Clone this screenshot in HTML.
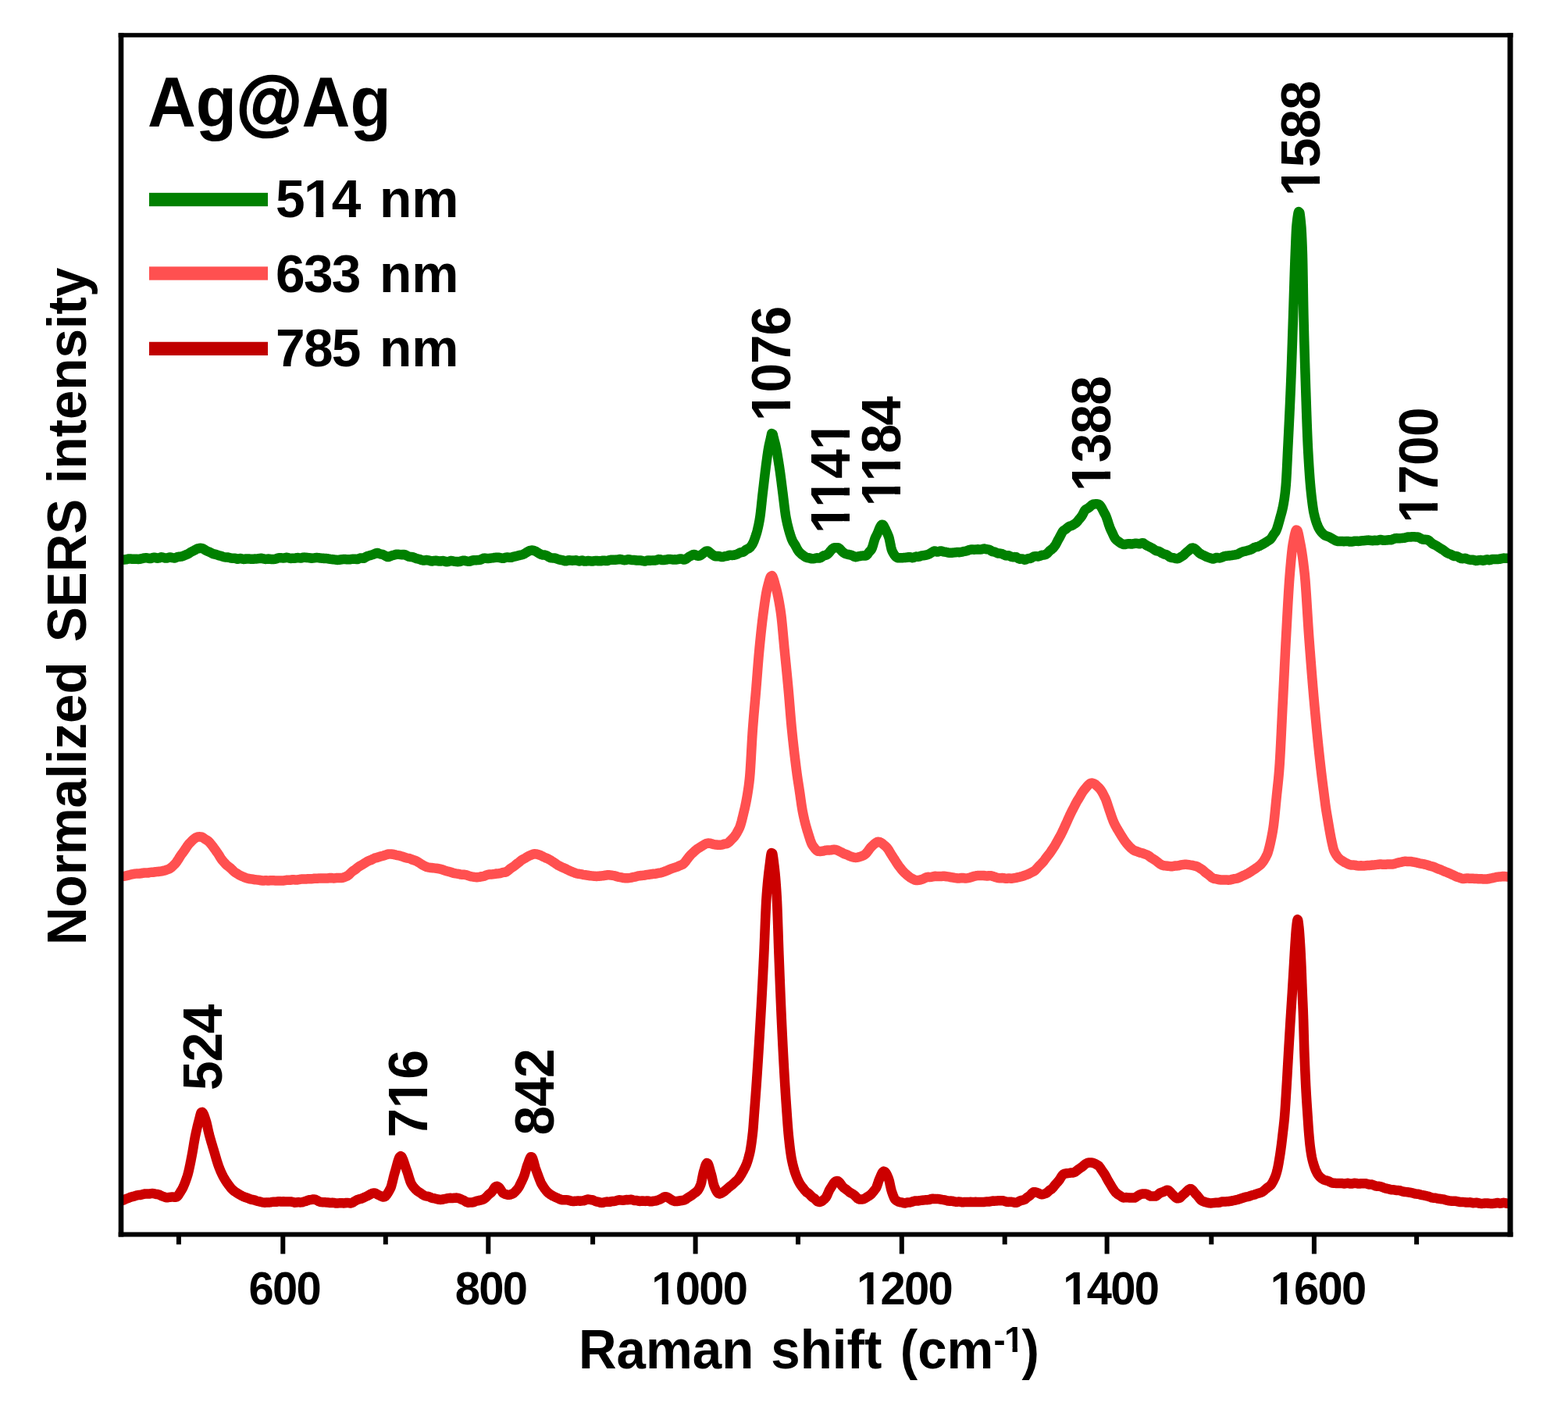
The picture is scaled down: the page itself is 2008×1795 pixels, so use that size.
<!DOCTYPE html>
<html lang="en"><head><meta charset="utf-8"><title>Ag@Ag SERS spectra</title>
<style>html,body{margin:0;padding:0;background:#fff;}body{width:2008px;height:1795px;overflow:hidden;}svg{display:block;}text{font-family:"Liberation Sans",Arial,Helvetica,sans-serif;font-weight:bold;fill:#000;}</style></head><body>
<svg width="2008" height="1795" viewBox="0 0 2008 1795">
<rect x="0" y="0" width="2008" height="1795" fill="#fff"/>
<defs><clipPath id="plot"><rect x="155.0" y="45.0" width="1779.0" height="1535.5"/></clipPath><clipPath id="kt2" clipPathUnits="userSpaceOnUse"><path clip-rule="evenodd" d="M-3000,-3000H3000V3000H-3000ZM-59.32,-7.03H-48.30V1.15H-59.32ZM-40.00,-7.03H-29.75V1.15H-40.00Z"/></clipPath><clipPath id="kt3" clipPathUnits="userSpaceOnUse"><path clip-rule="evenodd" d="M-3000,-3000H3000V3000H-3000ZM-59.32,-7.03H-48.30V1.15H-59.32ZM-40.00,-7.03H-29.75V1.15H-40.00Z"/></clipPath><clipPath id="kt4" clipPathUnits="userSpaceOnUse"><path clip-rule="evenodd" d="M-3000,-3000H3000V3000H-3000ZM-59.32,-7.03H-48.30V1.15H-59.32ZM-40.00,-7.03H-29.75V1.15H-40.00Z"/></clipPath><clipPath id="kt5" clipPathUnits="userSpaceOnUse"><path clip-rule="evenodd" d="M-3000,-3000H3000V3000H-3000ZM-59.32,-7.03H-48.30V1.15H-59.32ZM-40.00,-7.03H-29.75V1.15H-40.00Z"/></clipPath><clipPath id="kt6" clipPathUnits="userSpaceOnUse"><path clip-rule="evenodd" d="M-3000,-3000H3000V3000H-3000ZM566.89,-26.92H575.70V-20.38H566.89ZM582.33,-26.92H590.52V-20.38H582.33Z"/></clipPath><clipPath id="kt9" clipPathUnits="userSpaceOnUse"><path clip-rule="evenodd" d="M-3000,-3000H3000V3000H-3000ZM39.41,-8.21H52.27V1.34H39.41ZM61.95,-8.21H73.91V1.34H61.95Z"/></clipPath><clipPath id="kt12" clipPathUnits="userSpaceOnUse"><path clip-rule="evenodd" d="M-3000,-3000H3000V3000H-3000ZM3.13,-8.52H16.48V1.39H3.13ZM26.53,-8.52H38.94V1.39H26.53Z"/></clipPath><clipPath id="kt13" clipPathUnits="userSpaceOnUse"><path clip-rule="evenodd" d="M-3000,-3000H3000V3000H-3000ZM3.13,-8.52H16.48V1.39H3.13ZM26.53,-8.52H51.48V1.39H26.53ZM61.53,-8.52H73.94V1.39H61.53ZM116.00,-8.52H129.35V1.39H116.00ZM139.40,-8.52H151.81V1.39H139.40Z"/></clipPath><clipPath id="kt14" clipPathUnits="userSpaceOnUse"><path clip-rule="evenodd" d="M-3000,-3000H3000V3000H-3000ZM3.13,-8.52H16.48V1.39H3.13ZM26.53,-8.52H50.23V1.39H26.53ZM60.28,-8.52H72.69V1.39H60.28Z"/></clipPath><clipPath id="kt15" clipPathUnits="userSpaceOnUse"><path clip-rule="evenodd" d="M-3000,-3000H3000V3000H-3000ZM3.13,-8.52H16.48V1.39H3.13ZM26.53,-8.52H38.94V1.39H26.53Z"/></clipPath><clipPath id="kt16" clipPathUnits="userSpaceOnUse"><path clip-rule="evenodd" d="M-3000,-3000H3000V3000H-3000ZM3.13,-8.52H16.48V1.39H3.13ZM26.53,-8.52H38.94V1.39H26.53Z"/></clipPath><clipPath id="kt17" clipPathUnits="userSpaceOnUse"><path clip-rule="evenodd" d="M-3000,-3000H3000V3000H-3000ZM3.13,-8.52H16.48V1.39H3.13ZM26.53,-8.52H38.94V1.39H26.53Z"/></clipPath><clipPath id="kt19" clipPathUnits="userSpaceOnUse"><path clip-rule="evenodd" d="M-3000,-3000H3000V3000H-3000ZM42.51,-8.52H55.86V1.39H42.51ZM65.91,-8.52H78.32V1.39H65.91Z"/></clipPath></defs>
<g clip-path="url(#plot)" fill="none" stroke-linejoin="round" stroke-linecap="round" stroke-width="12.5">
<path d="M150.00,1537.5 L151.60,1537.5 L153.20,1537.4 L154.80,1537.3 L156.40,1537.1 L157.94,1536.6 L159.38,1535.9 L160.82,1535.2 L162.32,1534.6 L163.86,1534.1 L165.36,1533.5 L166.82,1532.9 L168.34,1532.3 L169.92,1532.0 L171.50,1531.7 L173.02,1531.1 L174.52,1530.6 L176.08,1530.2 L177.68,1530.1 L179.28,1530.0 L180.88,1529.7 L182.44,1529.3 L183.98,1528.8 L185.54,1528.5 L187.14,1528.4 L188.74,1528.5 L190.34,1528.5 L191.94,1528.4 L193.52,1528.1 L195.12,1527.9 L196.72,1528.1 L198.26,1528.5 L199.82,1528.9 L201.42,1529.0 L203.00,1529.3 L204.48,1529.9 L205.90,1530.7 L207.36,1531.4 L208.88,1531.9 L210.40,1532.4 L211.92,1533.0 L213.52,1533.2 L215.12,1533.2 L216.72,1532.9 L218.32,1532.7 L219.92,1532.6 L221.52,1532.6 L223.12,1532.7 L224.72,1532.8 L226.26,1532.4 L227.48,1531.4 L228.50,1530.1 L229.40,1528.7 L230.26,1527.4 L231.10,1526.0 L231.96,1524.6 L232.82,1523.2 L233.60,1521.8 L234.32,1520.4 L235.00,1518.9 L235.64,1517.4 L236.26,1515.9 L236.86,1514.4 L237.44,1512.8 L238.00,1511.3 L238.54,1509.7 L239.08,1508.2 L239.60,1506.6 L240.10,1505.0 L240.56,1503.4 L240.98,1501.9 L241.38,1500.3 L241.76,1498.7 L242.12,1497.1 L242.48,1495.5 L242.82,1493.9 L243.16,1492.3 L243.50,1490.7 L243.82,1489.1 L244.14,1487.5 L244.46,1485.9 L244.78,1484.2 L245.10,1482.6 L245.42,1480.9 L245.74,1479.3 L246.04,1477.7 L246.34,1476.0 L246.62,1474.4 L246.90,1472.7 L247.18,1471.1 L247.46,1469.4 L247.74,1467.7 L248.02,1466.0 L248.30,1464.3 L248.58,1462.7 L248.86,1461.0 L249.14,1459.5 L249.44,1457.8 L249.74,1456.2 L250.06,1454.6 L250.40,1453.0 L250.74,1451.4 L251.08,1449.8 L251.44,1448.2 L251.80,1446.6 L252.16,1445.0 L252.54,1443.3 L252.92,1441.7 L253.30,1440.2 L253.70,1438.6 L254.12,1437.0 L254.54,1435.4 L254.96,1433.9 L255.36,1432.2 L255.74,1430.7 L256.12,1429.1 L256.52,1427.5 L256.98,1426.0 L257.56,1424.4 L259.04,1423.8 L260.04,1425.1 L260.76,1426.5 L261.38,1428.0 L261.94,1429.6 L262.46,1431.1 L262.98,1432.7 L263.48,1434.2 L263.98,1435.8 L264.40,1437.3 L264.80,1438.9 L265.18,1440.6 L265.54,1442.2 L265.90,1443.9 L266.24,1445.4 L266.60,1447.1 L266.96,1448.7 L267.34,1450.3 L267.72,1451.9 L268.14,1453.5 L268.58,1455.1 L269.02,1456.7 L269.46,1458.2 L269.92,1459.8 L270.38,1461.4 L270.84,1463.0 L271.30,1464.5 L271.76,1466.1 L272.22,1467.6 L272.70,1469.2 L273.18,1470.8 L273.66,1472.4 L274.14,1474.0 L274.60,1475.5 L275.06,1477.1 L275.52,1478.6 L275.98,1480.2 L276.44,1481.8 L276.90,1483.3 L277.36,1484.9 L277.84,1486.5 L278.32,1488.0 L278.82,1489.6 L279.34,1491.2 L279.88,1492.7 L280.46,1494.2 L281.04,1495.7 L281.64,1497.2 L282.26,1498.8 L282.90,1500.3 L283.56,1501.7 L284.24,1503.2 L284.96,1504.6 L285.70,1506.1 L286.48,1507.5 L287.28,1508.9 L288.12,1510.3 L288.98,1511.7 L289.86,1513.0 L290.76,1514.4 L291.68,1515.7 L292.64,1517.0 L293.62,1518.3 L294.60,1519.6 L295.62,1520.9 L296.68,1522.1 L297.82,1523.2 L299.04,1524.3 L300.32,1525.3 L301.64,1526.2 L302.98,1527.1 L304.34,1527.9 L305.72,1528.8 L307.12,1529.6 L308.52,1530.4 L309.92,1531.1 L311.36,1531.9 L312.86,1532.5 L314.40,1533.0 L315.94,1533.5 L317.46,1534.0 L318.96,1534.6 L320.44,1535.3 L321.96,1535.8 L323.56,1536.0 L325.16,1536.3 L326.68,1536.8 L328.16,1537.4 L329.68,1537.9 L331.26,1538.2 L332.84,1538.5 L334.40,1538.9 L335.96,1539.4 L337.56,1539.6 L339.16,1539.7 L340.76,1539.6 L342.36,1539.5 L343.96,1539.5 L345.56,1539.4 L347.16,1539.2 L348.74,1538.9 L350.34,1538.7 L351.94,1538.8 L353.54,1538.8 L355.14,1538.5 L356.74,1538.3 L358.34,1538.3 L359.94,1538.5 L361.54,1538.5 L363.14,1538.3 L364.74,1538.4 L366.34,1538.5 L367.94,1538.6 L369.54,1538.5 L371.14,1538.5 L372.74,1538.5 L374.32,1538.8 L375.86,1539.3 L377.42,1539.7 L379.02,1539.6 L380.58,1539.3 L382.18,1539.1 L383.78,1539.4 L385.38,1539.4 L386.96,1539.2 L388.52,1538.7 L390.08,1538.3 L391.64,1537.9 L393.16,1537.3 L394.66,1536.8 L396.22,1536.3 L397.82,1536.1 L399.40,1535.8 L400.98,1535.5 L402.58,1535.5 L404.12,1535.9 L405.56,1536.7 L406.96,1537.4 L408.38,1538.2 L409.88,1538.8 L411.46,1539.1 L413.06,1539.2 L414.66,1539.2 L416.26,1539.3 L417.86,1539.4 L419.46,1539.5 L421.04,1539.7 L422.62,1540.0 L424.22,1540.0 L425.82,1539.8 L427.42,1539.9 L428.98,1540.3 L430.54,1540.6 L432.14,1540.6 L433.74,1540.4 L435.34,1540.2 L436.94,1540.2 L438.54,1540.3 L440.14,1540.4 L441.74,1540.3 L443.32,1540.0 L444.92,1539.9 L446.50,1540.1 L448.08,1540.4 L449.68,1540.4 L451.22,1539.9 L452.58,1539.1 L453.90,1538.1 L455.28,1537.3 L456.70,1536.5 L458.16,1535.9 L459.70,1535.4 L461.28,1535.0 L462.82,1534.6 L464.32,1534.0 L465.80,1533.4 L467.26,1532.7 L468.70,1532.0 L470.16,1531.3 L471.60,1530.6 L473.02,1529.8 L474.42,1529.0 L475.84,1528.2 L477.34,1527.6 L478.92,1527.4 L480.50,1527.7 L481.94,1528.4 L483.34,1529.2 L484.76,1530.0 L486.20,1530.7 L487.64,1531.4 L489.12,1532.0 L490.66,1532.5 L492.26,1532.3 L493.62,1531.5 L494.72,1530.3 L495.68,1529.0 L496.56,1527.6 L497.40,1526.2 L498.22,1524.8 L499.02,1523.4 L499.80,1521.9 L500.46,1520.5 L501.00,1518.9 L501.46,1517.3 L501.90,1515.7 L502.30,1514.2 L502.70,1512.5 L503.08,1511.0 L503.46,1509.4 L503.84,1507.8 L504.24,1506.2 L504.64,1504.6 L505.06,1503.0 L505.52,1501.4 L506.00,1499.9 L506.46,1498.3 L506.90,1496.7 L507.32,1495.2 L507.74,1493.6 L508.16,1492.0 L508.58,1490.5 L509.02,1488.9 L509.46,1487.3 L509.94,1485.7 L510.46,1484.2 L511.04,1482.7 L511.78,1481.2 L512.98,1480.2 L514.34,1481.0 L515.16,1482.4 L515.82,1483.9 L516.42,1485.4 L516.96,1486.9 L517.48,1488.5 L517.98,1490.0 L518.48,1491.5 L518.98,1493.1 L519.50,1494.6 L520.04,1496.2 L520.60,1497.7 L521.18,1499.2 L521.70,1500.8 L522.20,1502.3 L522.68,1503.9 L523.16,1505.5 L523.64,1507.1 L524.12,1508.6 L524.62,1510.2 L525.14,1511.8 L525.70,1513.3 L526.34,1514.8 L527.12,1516.2 L527.98,1517.6 L528.90,1518.9 L529.88,1520.2 L530.94,1521.4 L532.04,1522.6 L533.20,1523.7 L534.42,1524.8 L535.72,1525.7 L537.10,1526.6 L538.48,1527.4 L539.80,1528.3 L541.06,1529.3 L542.38,1530.2 L543.84,1530.9 L545.40,1531.4 L546.98,1531.6 L548.56,1531.9 L550.08,1532.4 L551.54,1533.1 L553.02,1533.7 L554.58,1534.1 L556.18,1534.3 L557.76,1534.7 L559.32,1535.1 L560.88,1535.5 L562.46,1535.8 L564.06,1535.9 L565.66,1535.8 L567.24,1535.5 L568.82,1535.2 L570.40,1534.9 L571.96,1534.5 L573.52,1534.1 L575.12,1533.9 L576.72,1533.8 L578.32,1533.9 L579.92,1533.9 L581.52,1533.8 L583.12,1533.7 L584.72,1533.6 L586.32,1533.9 L587.86,1534.3 L589.36,1534.9 L590.82,1535.6 L592.30,1536.2 L593.78,1536.8 L595.20,1537.6 L596.54,1538.5 L597.94,1539.3 L599.50,1539.7 L601.10,1539.5 L602.70,1539.4 L604.30,1539.5 L605.90,1539.3 L607.40,1538.8 L608.88,1538.1 L610.42,1537.6 L612.00,1537.3 L613.58,1537.0 L615.16,1536.6 L616.72,1536.2 L618.26,1535.7 L619.74,1535.1 L621.06,1534.2 L622.26,1533.1 L623.38,1531.9 L624.48,1530.8 L625.60,1529.6 L626.82,1528.6 L628.14,1527.6 L629.38,1526.6 L630.36,1525.3 L631.22,1524.0 L632.04,1522.6 L632.90,1521.2 L633.90,1519.9 L635.20,1518.9 L636.80,1518.8 L638.24,1519.5 L639.42,1520.6 L640.40,1521.9 L641.28,1523.3 L642.12,1524.6 L643.00,1526.0 L644.02,1527.3 L645.38,1528.1 L646.86,1528.8 L648.38,1529.3 L649.94,1529.7 L651.54,1529.8 L653.12,1529.6 L654.64,1529.0 L656.14,1528.5 L657.56,1527.7 L658.80,1526.6 L659.92,1525.5 L661.02,1524.3 L662.10,1523.1 L663.10,1521.8 L664.02,1520.5 L664.86,1519.1 L665.62,1517.6 L666.34,1516.2 L667.04,1514.7 L667.72,1513.3 L668.40,1511.8 L669.10,1510.3 L669.80,1508.8 L670.48,1507.4 L671.08,1505.8 L671.62,1504.3 L672.12,1502.7 L672.58,1501.2 L673.04,1499.6 L673.48,1498.0 L673.92,1496.4 L674.38,1494.8 L674.84,1493.3 L675.34,1491.8 L675.90,1490.2 L676.50,1488.7 L677.06,1487.2 L677.62,1485.6 L678.20,1484.1 L678.84,1482.6 L679.68,1481.2 L681.26,1481.5 L682.00,1483.0 L682.56,1484.5 L683.06,1486.1 L683.50,1487.6 L683.92,1489.2 L684.34,1490.8 L684.76,1492.3 L685.20,1493.9 L685.66,1495.5 L686.16,1497.1 L686.74,1498.6 L687.32,1500.2 L687.90,1501.7 L688.46,1503.2 L689.02,1504.7 L689.58,1506.2 L690.14,1507.8 L690.70,1509.3 L691.28,1510.8 L691.88,1512.3 L692.52,1513.8 L693.22,1515.3 L694.02,1516.7 L694.90,1518.1 L695.80,1519.4 L696.72,1520.8 L697.64,1522.1 L698.60,1523.4 L699.60,1524.7 L700.66,1525.9 L701.82,1527.0 L703.08,1528.0 L704.40,1529.0 L705.76,1529.8 L707.14,1530.7 L708.54,1531.5 L709.96,1532.2 L711.44,1532.9 L712.94,1533.5 L714.42,1534.1 L715.88,1534.8 L717.36,1535.5 L718.88,1536.0 L720.46,1536.3 L722.06,1536.3 L723.66,1536.2 L725.26,1536.2 L726.86,1536.4 L728.42,1536.8 L729.96,1537.3 L731.52,1537.7 L733.12,1537.9 L734.72,1538.0 L736.32,1537.8 L737.92,1537.7 L739.52,1537.6 L741.12,1537.6 L742.72,1537.7 L744.32,1537.6 L745.92,1537.4 L747.52,1537.2 L749.08,1536.7 L750.56,1536.1 L752.08,1535.6 L753.68,1535.6 L755.26,1535.9 L756.86,1536.2 L758.46,1536.3 L760.00,1536.8 L761.44,1537.5 L762.90,1538.2 L764.46,1538.5 L766.06,1538.7 L767.60,1539.2 L769.14,1539.7 L770.74,1539.9 L772.34,1539.7 L773.90,1539.3 L775.46,1538.9 L777.06,1538.6 L778.66,1538.7 L780.26,1538.8 L781.86,1538.5 L783.42,1538.2 L785.02,1537.9 L786.62,1537.9 L788.20,1537.6 L789.72,1537.1 L791.26,1536.6 L792.86,1536.3 L794.46,1536.4 L796.06,1536.6 L797.66,1536.8 L799.26,1536.6 L800.82,1536.2 L802.42,1536.1 L804.02,1536.2 L805.62,1536.1 L807.20,1535.8 L808.80,1535.8 L810.32,1536.4 L811.84,1536.9 L813.44,1537.0 L815.04,1537.0 L816.62,1537.3 L818.16,1537.8 L819.76,1537.9 L821.34,1537.6 L822.94,1537.5 L824.54,1537.7 L826.14,1537.9 L827.74,1537.6 L829.34,1537.5 L830.92,1537.7 L832.46,1538.2 L834.06,1538.3 L835.64,1538.0 L837.22,1537.7 L838.82,1537.6 L840.42,1537.3 L841.94,1536.8 L843.44,1536.2 L844.94,1535.6 L846.42,1535.0 L847.82,1534.1 L849.18,1533.3 L850.62,1532.5 L852.20,1532.3 L853.78,1532.5 L855.26,1533.2 L856.64,1534.0 L857.98,1534.9 L859.32,1535.8 L860.70,1536.7 L862.14,1537.4 L863.68,1537.9 L865.28,1538.0 L866.88,1538.0 L868.48,1537.8 L870.06,1537.5 L871.64,1537.2 L873.24,1537.0 L874.84,1536.8 L876.38,1536.4 L877.82,1535.7 L879.16,1534.8 L880.48,1533.8 L881.82,1532.9 L883.20,1532.1 L884.58,1531.2 L885.90,1530.3 L887.16,1529.3 L888.42,1528.3 L889.72,1527.4 L891.06,1526.5 L892.32,1525.5 L893.44,1524.3 L894.36,1523.0 L895.16,1521.6 L895.88,1520.2 L896.56,1518.7 L897.18,1517.2 L897.70,1515.6 L898.10,1514.1 L898.46,1512.5 L898.80,1510.8 L899.12,1509.2 L899.44,1507.5 L899.76,1505.9 L900.08,1504.3 L900.42,1502.7 L900.80,1501.1 L901.26,1499.5 L901.72,1497.9 L902.16,1496.4 L902.62,1494.8 L903.10,1493.2 L903.64,1491.7 L904.28,1490.2 L905.26,1488.9 L906.60,1489.8 L907.28,1491.3 L907.82,1492.9 L908.30,1494.5 L908.74,1496.0 L909.16,1497.6 L909.58,1499.1 L910.02,1500.8 L910.46,1502.3 L910.94,1503.9 L911.36,1505.4 L911.74,1507.0 L912.10,1508.6 L912.44,1510.2 L912.78,1511.8 L913.14,1513.4 L913.52,1515.0 L913.94,1516.6 L914.46,1518.1 L915.10,1519.7 L915.74,1521.2 L916.40,1522.7 L917.10,1524.1 L917.88,1525.5 L918.78,1526.9 L919.92,1528.0 L921.48,1528.4 L923.02,1528.0 L924.46,1527.2 L925.84,1526.4 L927.16,1525.5 L928.42,1524.5 L929.66,1523.4 L930.90,1522.4 L932.10,1521.3 L933.30,1520.3 L934.52,1519.2 L935.80,1518.2 L937.10,1517.3 L938.34,1516.2 L939.52,1515.1 L940.68,1514.0 L941.88,1512.9 L943.10,1511.9 L944.28,1510.8 L945.36,1509.6 L946.34,1508.3 L947.24,1507.0 L948.10,1505.6 L948.94,1504.2 L949.76,1502.8 L950.56,1501.4 L951.36,1500.0 L952.14,1498.5 L952.90,1497.1 L953.64,1495.7 L954.36,1494.2 L955.04,1492.7 L955.68,1491.2 L956.26,1489.7 L956.80,1488.2 L957.32,1486.6 L957.80,1485.1 L958.26,1483.5 L958.70,1481.9 L959.12,1480.4 L959.52,1478.8 L959.90,1477.2 L960.28,1475.6 L960.62,1474.0 L960.94,1472.3 L961.24,1470.6 L961.52,1469.0 L961.78,1467.3 L962.02,1465.7 L962.26,1464.1 L962.50,1462.3 L962.72,1460.7 L962.94,1459.0 L963.14,1457.4 L963.34,1455.8 L963.54,1454.1 L963.74,1452.3 L963.92,1450.7 L964.10,1449.1 L964.26,1447.4 L964.42,1445.6 L964.56,1444.0 L964.70,1442.2 L964.84,1440.4 L964.96,1438.8 L965.08,1437.1 L965.20,1435.5 L965.32,1433.8 L965.44,1432.1 L965.56,1430.4 L965.68,1428.8 L965.80,1427.1 L965.92,1425.5 L966.06,1423.6 L966.20,1421.8 L966.34,1420.0 L966.48,1418.2 L966.62,1416.3 L966.76,1414.5 L966.90,1412.7 L967.04,1410.8 L967.18,1409.0 L967.32,1407.1 L967.46,1405.3 L967.58,1403.7 L967.70,1402.1 L967.82,1400.4 L967.94,1398.8 L968.06,1397.2 L968.18,1395.5 L968.30,1393.9 L968.42,1392.2 L968.54,1390.5 L968.66,1388.8 L968.78,1387.1 L968.90,1385.3 L969.02,1383.6 L969.14,1381.8 L969.26,1380.0 L969.38,1378.3 L969.50,1376.5 L969.62,1374.7 L969.74,1372.9 L969.86,1371.0 L969.98,1369.2 L970.10,1367.4 L970.22,1365.6 L970.34,1363.7 L970.46,1361.8 L970.58,1360.0 L970.70,1358.1 L970.82,1356.2 L970.94,1354.3 L971.06,1352.4 L971.18,1350.5 L971.30,1348.6 L971.40,1347.0 L971.50,1345.4 L971.60,1343.8 L971.70,1342.2 L971.80,1340.6 L971.90,1339.0 L972.00,1337.3 L972.10,1335.7 L972.20,1334.1 L972.30,1332.4 L972.40,1330.8 L972.50,1329.1 L972.60,1327.5 L972.70,1325.8 L972.80,1324.2 L972.90,1322.5 L973.00,1320.8 L973.10,1319.1 L973.20,1317.4 L973.30,1315.8 L973.40,1314.1 L973.50,1312.4 L973.60,1310.7 L973.70,1309.0 L973.80,1307.2 L973.90,1305.5 L974.00,1303.8 L974.10,1302.1 L974.20,1300.3 L974.30,1298.6 L974.40,1296.8 L974.50,1295.1 L974.60,1293.3 L974.70,1291.5 L974.80,1289.8 L974.90,1288.0 L975.00,1286.2 L975.10,1284.4 L975.20,1282.5 L975.30,1280.7 L975.40,1278.9 L975.50,1277.0 L975.60,1275.2 L975.70,1273.3 L975.80,1271.5 L975.90,1269.6 L976.00,1267.7 L976.10,1265.8 L976.20,1263.9 L976.30,1262.0 L976.40,1260.1 L976.50,1258.2 L976.60,1256.2 L976.70,1254.3 L976.80,1252.3 L976.90,1250.4 L977.00,1248.4 L977.10,1246.4 L977.20,1244.4 L977.30,1242.4 L977.38,1240.8 L977.46,1239.2 L977.54,1237.6 L977.62,1236.0 L977.70,1234.4 L977.78,1232.7 L977.86,1231.1 L977.94,1229.5 L978.02,1227.8 L978.10,1226.2 L978.18,1224.5 L978.26,1222.8 L978.34,1221.0 L978.42,1219.3 L978.50,1217.4 L978.58,1215.6 L978.66,1213.7 L978.74,1211.8 L978.82,1209.9 L978.90,1207.9 L978.98,1206.0 L979.06,1204.0 L979.14,1202.0 L979.22,1200.0 L979.30,1198.0 L979.38,1196.0 L979.46,1193.9 L979.54,1191.9 L979.62,1189.9 L979.70,1187.9 L979.78,1185.9 L979.86,1183.9 L979.94,1181.9 L980.02,1180.0 L980.10,1178.0 L980.18,1176.1 L980.26,1174.2 L980.34,1172.3 L980.42,1170.5 L980.50,1168.7 L980.58,1166.9 L980.66,1165.1 L980.74,1163.4 L980.82,1161.7 L980.90,1160.1 L981.00,1158.2 L981.10,1156.3 L981.20,1154.5 L981.30,1152.7 L981.40,1151.1 L981.52,1149.3 L981.64,1147.6 L981.76,1145.9 L981.90,1144.1 L982.04,1142.3 L982.18,1140.5 L982.32,1138.8 L982.46,1137.1 L982.60,1135.5 L982.76,1133.7 L982.92,1131.9 L983.08,1130.2 L983.24,1128.5 L983.40,1126.9 L983.58,1125.1 L983.76,1123.4 L983.94,1121.7 L984.12,1120.1 L984.30,1118.5 L984.50,1116.7 L984.70,1115.1 L984.90,1113.4 L985.10,1111.8 L985.32,1110.1 L985.54,1108.4 L985.76,1106.7 L985.96,1105.1 L986.16,1103.5 L986.36,1101.8 L986.56,1100.2 L986.78,1098.5 L987.00,1096.9 L987.24,1095.3 L987.52,1093.6 L987.88,1092.0 L989.28,1092.8 L989.60,1094.4 L989.86,1096.1 L990.10,1097.7 L990.32,1099.4 L990.54,1101.1 L990.74,1102.7 L990.94,1104.3 L991.14,1106.0 L991.34,1107.6 L991.56,1109.3 L991.76,1111.0 L991.96,1112.7 L992.14,1114.4 L992.32,1116.1 L992.48,1117.7 L992.64,1119.4 L992.80,1121.1 L992.96,1122.9 L993.10,1124.5 L993.24,1126.2 L993.38,1128.0 L993.52,1129.8 L993.64,1131.4 L993.76,1133.0 L993.88,1134.7 L994.00,1136.5 L994.12,1138.2 L994.24,1140.1 L994.36,1141.9 L994.48,1143.8 L994.58,1145.5 L994.68,1147.1 L994.78,1148.9 L994.88,1150.7 L994.98,1152.7 L995.06,1154.4 L995.14,1156.2 L995.22,1158.1 L995.30,1160.0 L995.38,1161.9 L995.46,1164.0 L995.54,1166.1 L995.60,1167.7 L995.66,1169.3 L995.72,1170.9 L995.78,1172.6 L995.84,1174.3 L995.90,1176.0 L995.96,1177.8 L996.02,1179.5 L996.08,1181.3 L996.14,1183.1 L996.20,1184.9 L996.26,1186.7 L996.32,1188.5 L996.38,1190.3 L996.44,1192.1 L996.50,1194.0 L996.56,1195.8 L996.62,1197.6 L996.68,1199.4 L996.74,1201.2 L996.80,1203.1 L996.86,1204.9 L996.92,1206.7 L996.98,1208.4 L997.04,1210.2 L997.10,1212.0 L997.16,1213.7 L997.22,1215.4 L997.28,1217.1 L997.34,1218.8 L997.40,1220.4 L997.46,1222.1 L997.52,1223.7 L997.60,1225.8 L997.68,1227.8 L997.76,1229.9 L997.84,1232.0 L997.92,1234.0 L998.00,1236.1 L998.08,1238.1 L998.16,1240.2 L998.24,1242.3 L998.32,1244.3 L998.40,1246.4 L998.48,1248.4 L998.56,1250.5 L998.64,1252.5 L998.72,1254.5 L998.80,1256.6 L998.88,1258.6 L998.96,1260.6 L999.04,1262.6 L999.12,1264.6 L999.20,1266.6 L999.28,1268.6 L999.36,1270.6 L999.44,1272.5 L999.52,1274.5 L999.60,1276.5 L999.68,1278.4 L999.76,1280.3 L999.84,1282.2 L999.92,1284.1 L1000.00,1286.0 L1000.08,1287.9 L1000.16,1289.8 L1000.24,1291.6 L1000.32,1293.5 L1000.40,1295.3 L1000.48,1297.1 L1000.56,1298.9 L1000.64,1300.7 L1000.72,1302.5 L1000.80,1304.2 L1000.88,1305.9 L1000.96,1307.7 L1001.04,1309.4 L1001.12,1311.1 L1001.20,1312.8 L1001.28,1314.5 L1001.36,1316.2 L1001.44,1317.9 L1001.52,1319.5 L1001.60,1321.2 L1001.68,1322.9 L1001.76,1324.5 L1001.84,1326.2 L1001.92,1327.8 L1002.00,1329.4 L1002.08,1331.0 L1002.16,1332.6 L1002.24,1334.2 L1002.34,1336.2 L1002.44,1338.2 L1002.54,1340.2 L1002.64,1342.1 L1002.74,1344.1 L1002.84,1346.0 L1002.94,1347.9 L1003.04,1349.9 L1003.14,1351.7 L1003.24,1353.6 L1003.34,1355.5 L1003.44,1357.4 L1003.54,1359.2 L1003.64,1361.1 L1003.74,1362.9 L1003.84,1364.7 L1003.94,1366.5 L1004.04,1368.3 L1004.14,1370.1 L1004.24,1371.8 L1004.34,1373.6 L1004.44,1375.3 L1004.54,1377.1 L1004.64,1378.8 L1004.74,1380.5 L1004.84,1382.2 L1004.94,1383.9 L1005.04,1385.6 L1005.14,1387.2 L1005.24,1388.9 L1005.34,1390.5 L1005.44,1392.1 L1005.54,1393.7 L1005.66,1395.6 L1005.78,1397.5 L1005.90,1399.4 L1006.02,1401.3 L1006.14,1403.1 L1006.26,1405.0 L1006.38,1406.8 L1006.50,1408.6 L1006.62,1410.4 L1006.74,1412.2 L1006.86,1413.9 L1006.98,1415.7 L1007.10,1417.4 L1007.22,1419.1 L1007.34,1420.8 L1007.46,1422.5 L1007.58,1424.2 L1007.70,1425.9 L1007.82,1427.7 L1007.94,1429.4 L1008.06,1431.1 L1008.18,1432.8 L1008.30,1434.4 L1008.42,1436.1 L1008.54,1437.8 L1008.66,1439.4 L1008.78,1441.0 L1008.92,1442.8 L1009.06,1444.6 L1009.20,1446.3 L1009.34,1448.0 L1009.48,1449.6 L1009.64,1451.3 L1009.80,1453.0 L1009.98,1454.8 L1010.16,1456.5 L1010.34,1458.3 L1010.52,1459.9 L1010.70,1461.6 L1010.88,1463.2 L1011.06,1464.8 L1011.26,1466.6 L1011.46,1468.3 L1011.66,1469.9 L1011.86,1471.5 L1012.08,1473.2 L1012.30,1474.8 L1012.54,1476.5 L1012.78,1478.1 L1013.04,1479.8 L1013.30,1481.4 L1013.58,1483.0 L1013.88,1484.6 L1014.20,1486.1 L1014.54,1487.7 L1014.90,1489.4 L1015.28,1491.0 L1015.68,1492.6 L1016.08,1494.2 L1016.50,1495.7 L1016.94,1497.3 L1017.42,1498.9 L1017.92,1500.4 L1018.44,1502.0 L1018.98,1503.6 L1019.54,1505.1 L1020.12,1506.6 L1020.72,1508.1 L1021.36,1509.6 L1022.02,1511.1 L1022.72,1512.5 L1023.48,1514.0 L1024.28,1515.4 L1025.14,1516.7 L1026.06,1518.1 L1027.04,1519.4 L1028.04,1520.6 L1029.04,1521.9 L1030.02,1523.2 L1031.02,1524.4 L1032.10,1525.6 L1033.34,1526.7 L1034.70,1527.5 L1036.00,1528.5 L1037.14,1529.6 L1038.22,1530.8 L1039.34,1532.0 L1040.62,1533.0 L1041.98,1533.8 L1043.26,1534.8 L1044.38,1535.9 L1045.48,1537.1 L1046.70,1538.2 L1048.16,1538.8 L1049.76,1538.9 L1051.30,1538.5 L1052.70,1537.7 L1054.00,1536.7 L1055.24,1535.7 L1056.42,1534.6 L1057.52,1533.4 L1058.40,1532.0 L1059.12,1530.5 L1059.76,1529.1 L1060.40,1527.6 L1061.04,1526.1 L1061.72,1524.6 L1062.46,1523.1 L1063.32,1521.8 L1064.22,1520.4 L1065.06,1519.0 L1065.88,1517.6 L1066.72,1516.2 L1067.62,1514.9 L1068.66,1513.6 L1069.92,1512.6 L1071.42,1512.0 L1073.02,1512.2 L1074.34,1513.1 L1075.42,1514.3 L1076.40,1515.7 L1077.34,1517.0 L1078.30,1518.3 L1079.34,1519.5 L1080.50,1520.7 L1081.82,1521.6 L1083.14,1522.5 L1084.42,1523.5 L1085.66,1524.5 L1086.88,1525.5 L1088.14,1526.5 L1089.52,1527.4 L1090.96,1528.1 L1092.34,1528.9 L1093.64,1529.9 L1094.86,1530.9 L1096.00,1532.1 L1097.12,1533.3 L1098.28,1534.4 L1099.64,1535.2 L1101.20,1535.6 L1102.80,1535.6 L1104.40,1535.5 L1105.98,1535.1 L1107.44,1534.4 L1108.80,1533.6 L1110.14,1532.7 L1111.52,1531.8 L1112.90,1531.0 L1114.22,1530.1 L1115.44,1529.1 L1116.58,1527.9 L1117.64,1526.7 L1118.66,1525.4 L1119.66,1524.1 L1120.64,1522.9 L1121.60,1521.6 L1122.38,1520.2 L1123.00,1518.7 L1123.54,1517.1 L1124.06,1515.6 L1124.56,1514.0 L1125.08,1512.4 L1125.62,1510.9 L1126.24,1509.4 L1126.88,1507.9 L1127.50,1506.5 L1128.14,1505.0 L1128.80,1503.5 L1129.54,1502.0 L1130.40,1500.7 L1131.62,1499.6 L1133.16,1500.1 L1134.22,1501.3 L1135.08,1502.7 L1135.82,1504.1 L1136.50,1505.6 L1137.14,1507.1 L1137.74,1508.6 L1138.30,1510.2 L1138.74,1511.7 L1139.12,1513.3 L1139.48,1515.0 L1139.82,1516.6 L1140.16,1518.2 L1140.50,1519.8 L1140.86,1521.5 L1141.24,1523.1 L1141.68,1524.6 L1142.20,1526.2 L1142.72,1527.7 L1143.26,1529.3 L1143.82,1530.8 L1144.42,1532.3 L1145.08,1533.8 L1145.86,1535.2 L1146.94,1536.4 L1148.32,1537.3 L1149.70,1538.1 L1151.14,1538.8 L1152.70,1539.2 L1154.30,1539.4 L1155.86,1539.8 L1157.40,1540.3 L1159.00,1540.4 L1160.56,1540.0 L1162.12,1539.5 L1163.72,1539.4 L1165.32,1539.4 L1166.88,1539.0 L1168.40,1538.5 L1169.92,1538.0 L1171.50,1537.6 L1173.10,1537.5 L1174.70,1537.5 L1176.30,1537.4 L1177.90,1537.1 L1179.48,1536.9 L1181.08,1536.7 L1182.68,1536.6 L1184.28,1536.4 L1185.88,1536.2 L1187.48,1536.2 L1189.08,1536.1 L1190.64,1535.8 L1192.12,1535.1 L1193.68,1534.7 L1195.28,1534.8 L1196.86,1535.1 L1198.46,1535.1 L1200.06,1535.0 L1201.66,1535.1 L1203.26,1535.3 L1204.84,1535.6 L1206.44,1535.9 L1208.04,1536.1 L1209.62,1536.4 L1211.18,1536.8 L1212.72,1537.2 L1214.30,1537.6 L1215.90,1537.7 L1217.50,1537.6 L1219.10,1537.7 L1220.68,1538.0 L1222.24,1538.4 L1223.82,1538.7 L1225.42,1538.8 L1227.02,1538.6 L1228.62,1538.6 L1230.20,1538.8 L1231.78,1539.2 L1233.38,1539.2 L1234.98,1539.0 L1236.58,1539.0 L1238.18,1539.0 L1239.78,1539.0 L1241.38,1538.9 L1242.98,1538.8 L1244.58,1538.9 L1246.18,1538.9 L1247.78,1538.9 L1249.38,1538.8 L1250.98,1538.9 L1252.58,1539.0 L1254.18,1539.0 L1255.78,1538.9 L1257.38,1538.9 L1258.98,1539.0 L1260.58,1538.9 L1262.16,1538.6 L1263.76,1538.4 L1265.36,1538.5 L1266.96,1538.5 L1268.54,1538.1 L1270.10,1537.7 L1271.70,1537.6 L1273.30,1537.7 L1274.90,1537.6 L1276.50,1537.4 L1278.10,1537.3 L1279.70,1537.3 L1281.30,1537.3 L1282.90,1537.2 L1284.50,1537.3 L1286.04,1537.7 L1287.54,1538.3 L1289.10,1538.7 L1290.70,1538.9 L1292.30,1538.8 L1293.90,1538.7 L1295.50,1538.8 L1297.08,1539.1 L1298.64,1539.5 L1300.22,1539.8 L1301.82,1539.7 L1303.30,1539.1 L1304.68,1538.2 L1306.10,1537.5 L1307.62,1537.0 L1309.20,1536.6 L1310.78,1536.3 L1312.28,1535.7 L1313.56,1534.7 L1314.74,1533.6 L1315.96,1532.6 L1317.34,1531.8 L1318.70,1530.9 L1319.86,1529.8 L1320.90,1528.5 L1321.96,1527.3 L1323.22,1526.3 L1324.82,1526.2 L1326.40,1526.5 L1327.96,1526.9 L1329.50,1527.4 L1330.96,1528.1 L1332.40,1528.9 L1333.96,1529.3 L1335.56,1529.1 L1337.10,1528.6 L1338.64,1528.1 L1340.10,1527.5 L1341.38,1526.5 L1342.56,1525.4 L1343.74,1524.3 L1345.04,1523.3 L1346.42,1522.5 L1347.66,1521.4 L1348.74,1520.2 L1349.74,1518.9 L1350.72,1517.6 L1351.74,1516.4 L1352.80,1515.2 L1353.90,1514.0 L1355.00,1512.8 L1356.00,1511.6 L1356.92,1510.2 L1357.78,1508.9 L1358.62,1507.5 L1359.48,1506.1 L1360.42,1504.8 L1361.52,1503.6 L1362.94,1502.9 L1364.50,1502.5 L1366.10,1502.3 L1367.70,1502.1 L1369.30,1501.9 L1370.90,1501.6 L1372.50,1501.5 L1374.10,1501.4 L1375.66,1501.0 L1377.06,1500.2 L1378.36,1499.2 L1379.64,1498.2 L1380.92,1497.2 L1382.22,1496.3 L1383.56,1495.4 L1384.92,1494.5 L1386.22,1493.6 L1387.44,1492.5 L1388.64,1491.4 L1389.90,1490.4 L1391.26,1489.6 L1392.74,1488.9 L1394.30,1488.5 L1395.90,1488.4 L1397.50,1488.5 L1399.10,1488.7 L1400.64,1489.2 L1402.10,1489.8 L1403.52,1490.6 L1404.94,1491.3 L1406.30,1492.2 L1407.52,1493.2 L1408.52,1494.5 L1409.42,1495.8 L1410.30,1497.2 L1411.20,1498.5 L1412.12,1499.8 L1413.04,1501.1 L1413.94,1502.5 L1414.80,1503.8 L1415.60,1505.2 L1416.36,1506.6 L1417.12,1508.1 L1417.88,1509.5 L1418.68,1510.9 L1419.50,1512.4 L1420.32,1513.7 L1421.16,1515.1 L1422.00,1516.5 L1422.84,1517.9 L1423.66,1519.3 L1424.48,1520.7 L1425.34,1522.1 L1426.22,1523.4 L1427.16,1524.7 L1428.16,1526.0 L1429.26,1527.2 L1430.48,1528.2 L1431.76,1529.2 L1433.14,1530.1 L1434.52,1530.9 L1435.84,1531.8 L1437.16,1532.8 L1438.64,1533.4 L1440.24,1533.3 L1441.82,1533.1 L1443.42,1533.2 L1445.00,1533.4 L1446.60,1533.6 L1448.20,1533.5 L1449.80,1533.5 L1451.40,1533.6 L1453.00,1533.5 L1454.48,1532.8 L1455.84,1531.9 L1457.16,1531.0 L1458.52,1530.1 L1459.94,1529.4 L1461.46,1528.9 L1463.04,1528.5 L1464.64,1528.4 L1466.24,1528.4 L1467.84,1528.6 L1469.38,1529.1 L1470.76,1529.9 L1472.08,1530.9 L1473.52,1531.6 L1475.12,1531.6 L1476.72,1531.4 L1478.32,1531.5 L1479.92,1531.5 L1481.38,1530.8 L1482.62,1529.7 L1483.82,1528.7 L1485.12,1527.7 L1486.58,1527.0 L1488.12,1526.5 L1489.66,1526.0 L1491.14,1525.3 L1492.54,1524.5 L1493.98,1523.8 L1495.58,1523.7 L1496.98,1524.5 L1498.14,1525.6 L1499.26,1526.8 L1500.36,1528.0 L1501.46,1529.2 L1502.58,1530.3 L1503.74,1531.5 L1504.88,1532.6 L1506.14,1533.6 L1507.60,1534.3 L1509.20,1534.3 L1510.68,1533.7 L1511.96,1532.7 L1513.10,1531.6 L1514.20,1530.4 L1515.34,1529.3 L1516.60,1528.3 L1517.82,1527.3 L1518.98,1526.1 L1520.12,1525.0 L1521.28,1523.9 L1522.52,1522.8 L1523.96,1522.1 L1525.56,1522.3 L1526.84,1523.3 L1527.90,1524.5 L1528.88,1525.8 L1529.86,1527.1 L1530.88,1528.3 L1531.96,1529.5 L1533.10,1530.6 L1534.14,1531.9 L1535.12,1533.1 L1536.10,1534.4 L1537.14,1535.7 L1538.28,1536.8 L1539.60,1537.7 L1541.10,1538.3 L1542.62,1538.8 L1544.16,1539.3 L1545.72,1539.7 L1547.30,1540.0 L1548.90,1540.3 L1550.50,1540.4 L1552.10,1540.3 L1553.70,1540.1 L1555.30,1539.9 L1556.90,1539.8 L1558.50,1539.8 L1560.10,1539.8 L1561.68,1539.6 L1563.20,1539.0 L1564.74,1538.6 L1566.34,1538.5 L1567.94,1538.5 L1569.54,1538.4 L1571.14,1538.3 L1572.74,1538.2 L1574.34,1538.0 L1575.94,1537.8 L1577.52,1537.5 L1579.10,1537.2 L1580.68,1536.8 L1582.24,1536.5 L1583.82,1536.1 L1585.38,1535.8 L1586.92,1535.3 L1588.44,1534.8 L1589.96,1534.3 L1591.50,1533.8 L1593.04,1533.3 L1594.58,1532.8 L1596.14,1532.4 L1597.72,1532.1 L1599.28,1531.7 L1600.80,1531.2 L1602.30,1530.6 L1603.84,1530.1 L1605.42,1529.8 L1606.98,1529.4 L1608.48,1528.8 L1609.98,1528.2 L1611.52,1527.8 L1613.08,1527.4 L1614.62,1526.9 L1616.10,1526.3 L1617.46,1525.4 L1618.70,1524.4 L1619.90,1523.3 L1621.10,1522.3 L1622.34,1521.2 L1623.62,1520.2 L1624.92,1519.3 L1626.20,1518.3 L1627.36,1517.2 L1628.34,1515.9 L1629.20,1514.5 L1630.00,1513.1 L1630.76,1511.6 L1631.50,1510.2 L1632.20,1508.7 L1632.84,1507.2 L1633.42,1505.7 L1633.96,1504.1 L1634.46,1502.5 L1634.92,1500.9 L1635.34,1499.4 L1635.74,1497.8 L1636.12,1496.2 L1636.46,1494.6 L1636.78,1493.0 L1637.08,1491.4 L1637.38,1489.8 L1637.66,1488.2 L1637.94,1486.5 L1638.22,1484.8 L1638.50,1483.1 L1638.76,1481.6 L1639.02,1479.9 L1639.28,1478.3 L1639.52,1476.6 L1639.76,1475.0 L1640.00,1473.3 L1640.22,1471.7 L1640.44,1470.1 L1640.66,1468.4 L1640.88,1466.8 L1641.10,1465.1 L1641.30,1463.5 L1641.50,1461.8 L1641.70,1460.2 L1641.90,1458.5 L1642.10,1456.8 L1642.30,1455.1 L1642.50,1453.3 L1642.70,1451.6 L1642.90,1449.8 L1643.10,1448.1 L1643.30,1446.4 L1643.50,1444.6 L1643.70,1442.9 L1643.90,1441.2 L1644.08,1439.5 L1644.26,1437.9 L1644.44,1436.1 L1644.60,1434.5 L1644.76,1432.9 L1644.92,1431.1 L1645.06,1429.5 L1645.20,1427.8 L1645.34,1426.0 L1645.48,1424.2 L1645.60,1422.5 L1645.72,1420.8 L1645.84,1419.0 L1645.96,1417.2 L1646.08,1415.4 L1646.20,1413.6 L1646.32,1411.7 L1646.44,1409.8 L1646.54,1408.1 L1646.64,1406.5 L1646.74,1404.9 L1646.84,1403.3 L1646.94,1401.6 L1647.04,1400.0 L1647.14,1398.4 L1647.24,1396.7 L1647.34,1395.1 L1647.44,1393.5 L1647.54,1391.9 L1647.64,1390.2 L1647.74,1388.6 L1647.84,1386.9 L1647.94,1385.2 L1648.04,1383.5 L1648.14,1381.7 L1648.24,1380.0 L1648.34,1378.3 L1648.44,1376.5 L1648.54,1374.7 L1648.64,1373.0 L1648.74,1371.2 L1648.84,1369.4 L1648.94,1367.7 L1649.04,1365.9 L1649.14,1364.1 L1649.24,1362.3 L1649.34,1360.6 L1649.44,1358.8 L1649.54,1357.0 L1649.64,1355.3 L1649.74,1353.6 L1649.84,1351.8 L1649.94,1350.1 L1650.04,1348.4 L1650.14,1346.7 L1650.24,1345.0 L1650.34,1343.3 L1650.44,1341.6 L1650.54,1339.9 L1650.64,1338.2 L1650.74,1336.5 L1650.84,1334.9 L1650.94,1333.2 L1651.04,1331.5 L1651.14,1329.8 L1651.24,1328.1 L1651.34,1326.5 L1651.44,1324.8 L1651.54,1323.1 L1651.64,1321.4 L1651.74,1319.8 L1651.84,1318.1 L1651.94,1316.5 L1652.04,1314.8 L1652.14,1313.2 L1652.24,1311.5 L1652.34,1309.9 L1652.44,1308.3 L1652.54,1306.6 L1652.64,1305.0 L1652.74,1303.4 L1652.84,1301.8 L1652.94,1300.2 L1653.06,1298.3 L1653.18,1296.4 L1653.30,1294.5 L1653.42,1292.7 L1653.54,1290.8 L1653.66,1289.0 L1653.78,1287.1 L1653.90,1285.3 L1654.02,1283.4 L1654.14,1281.6 L1654.26,1279.8 L1654.38,1277.9 L1654.50,1276.0 L1654.62,1274.2 L1654.74,1272.3 L1654.86,1270.4 L1654.96,1268.7 L1655.06,1267.1 L1655.16,1265.5 L1655.26,1263.9 L1655.36,1262.2 L1655.46,1260.6 L1655.56,1258.9 L1655.66,1257.3 L1655.76,1255.6 L1655.86,1253.9 L1655.96,1252.3 L1656.06,1250.6 L1656.16,1248.9 L1656.26,1247.3 L1656.36,1245.6 L1656.46,1243.9 L1656.56,1242.2 L1656.66,1240.6 L1656.76,1238.9 L1656.86,1237.2 L1656.96,1235.5 L1657.06,1233.8 L1657.16,1232.1 L1657.26,1230.4 L1657.36,1228.7 L1657.46,1227.0 L1657.56,1225.2 L1657.66,1223.5 L1657.76,1221.8 L1657.86,1220.1 L1657.96,1218.4 L1658.06,1216.8 L1658.16,1215.1 L1658.26,1213.5 L1658.36,1211.9 L1658.48,1210.0 L1658.60,1208.2 L1658.72,1206.4 L1658.84,1204.6 L1658.96,1202.8 L1659.08,1201.0 L1659.20,1199.2 L1659.32,1197.5 L1659.44,1195.8 L1659.56,1194.1 L1659.70,1192.3 L1659.84,1190.6 L1660.00,1188.8 L1660.18,1187.1 L1660.38,1185.4 L1660.58,1183.6 L1660.78,1182.0 L1661.00,1180.3 L1661.26,1178.6 L1661.74,1177.1 L1662.32,1178.6 L1662.58,1180.3 L1662.80,1182.0 L1663.00,1183.6 L1663.20,1185.4 L1663.40,1187.1 L1663.58,1188.8 L1663.74,1190.5 L1663.88,1192.1 L1664.02,1193.9 L1664.14,1195.5 L1664.26,1197.2 L1664.38,1198.9 L1664.50,1200.7 L1664.62,1202.5 L1664.74,1204.3 L1664.86,1206.2 L1664.98,1208.1 L1665.08,1209.7 L1665.18,1211.4 L1665.28,1213.2 L1665.38,1214.9 L1665.48,1216.8 L1665.58,1218.7 L1665.68,1220.6 L1665.78,1222.6 L1665.86,1224.2 L1665.94,1225.9 L1666.02,1227.5 L1666.10,1229.2 L1666.18,1230.9 L1666.26,1232.6 L1666.34,1234.4 L1666.42,1236.2 L1666.50,1237.9 L1666.58,1239.8 L1666.66,1241.7 L1666.74,1243.7 L1666.82,1245.7 L1666.90,1247.8 L1666.98,1249.9 L1667.04,1251.5 L1667.10,1253.2 L1667.16,1254.8 L1667.22,1256.4 L1667.28,1258.1 L1667.34,1259.7 L1667.40,1261.3 L1667.46,1262.9 L1667.54,1265.1 L1667.62,1267.1 L1667.70,1269.2 L1667.78,1271.1 L1667.86,1273.1 L1667.94,1275.0 L1668.02,1276.8 L1668.10,1278.6 L1668.18,1280.5 L1668.26,1282.3 L1668.34,1284.1 L1668.42,1285.9 L1668.50,1287.8 L1668.58,1289.7 L1668.66,1291.6 L1668.74,1293.6 L1668.82,1295.6 L1668.90,1297.7 L1668.96,1299.3 L1669.02,1301.0 L1669.08,1302.7 L1669.14,1304.5 L1669.20,1306.4 L1669.26,1308.4 L1669.32,1310.4 L1669.38,1312.4 L1669.44,1314.5 L1669.50,1316.6 L1669.56,1318.8 L1669.62,1320.9 L1669.68,1323.1 L1669.74,1325.3 L1669.80,1327.4 L1669.86,1329.6 L1669.92,1331.7 L1669.98,1333.8 L1670.04,1335.9 L1670.10,1337.9 L1670.16,1339.9 L1670.22,1341.8 L1670.28,1343.7 L1670.34,1345.5 L1670.40,1347.2 L1670.46,1348.8 L1670.52,1350.5 L1670.58,1352.1 L1670.64,1353.7 L1670.72,1355.8 L1670.80,1357.9 L1670.88,1360.0 L1670.96,1362.0 L1671.04,1364.0 L1671.12,1366.0 L1671.20,1368.0 L1671.28,1369.9 L1671.36,1371.8 L1671.44,1373.7 L1671.52,1375.5 L1671.60,1377.3 L1671.68,1379.1 L1671.76,1380.9 L1671.84,1382.6 L1671.92,1384.3 L1672.00,1386.0 L1672.08,1387.6 L1672.16,1389.2 L1672.26,1391.2 L1672.36,1393.1 L1672.46,1395.0 L1672.56,1396.8 L1672.66,1398.6 L1672.76,1400.4 L1672.86,1402.1 L1672.96,1403.8 L1673.06,1405.4 L1673.16,1407.0 L1673.28,1408.9 L1673.40,1410.8 L1673.52,1412.7 L1673.64,1414.5 L1673.76,1416.3 L1673.88,1418.1 L1674.00,1419.8 L1674.12,1421.6 L1674.24,1423.4 L1674.36,1425.1 L1674.48,1426.9 L1674.60,1428.7 L1674.72,1430.5 L1674.84,1432.3 L1674.96,1434.1 L1675.08,1436.0 L1675.20,1437.8 L1675.32,1439.6 L1675.44,1441.4 L1675.56,1443.1 L1675.68,1444.8 L1675.80,1446.5 L1675.94,1448.3 L1676.08,1450.1 L1676.22,1451.8 L1676.36,1453.4 L1676.50,1455.0 L1676.66,1456.8 L1676.82,1458.5 L1676.98,1460.2 L1677.14,1461.8 L1677.32,1463.6 L1677.50,1465.3 L1677.68,1466.9 L1677.88,1468.5 L1678.10,1470.2 L1678.32,1471.9 L1678.56,1473.5 L1678.80,1475.2 L1679.06,1476.8 L1679.34,1478.5 L1679.62,1480.1 L1679.92,1481.7 L1680.26,1483.3 L1680.64,1485.0 L1681.04,1486.5 L1681.46,1488.1 L1681.90,1489.7 L1682.36,1491.2 L1682.86,1492.8 L1683.38,1494.3 L1683.94,1495.8 L1684.56,1497.4 L1685.22,1498.9 L1685.90,1500.3 L1686.62,1501.8 L1687.42,1503.2 L1688.30,1504.5 L1689.30,1505.8 L1690.42,1507.0 L1691.62,1508.0 L1692.90,1509.0 L1694.26,1509.9 L1695.70,1510.6 L1697.22,1511.1 L1698.80,1511.5 L1700.36,1511.8 L1701.84,1512.5 L1703.24,1513.3 L1704.68,1514.0 L1706.22,1514.5 L1707.82,1514.7 L1709.42,1514.8 L1711.02,1514.9 L1712.62,1515.0 L1714.22,1515.0 L1715.82,1514.9 L1717.42,1515.0 L1719.02,1515.1 L1720.62,1515.4 L1722.22,1515.4 L1723.80,1515.1 L1725.38,1514.8 L1726.98,1515.0 L1728.54,1515.4 L1730.14,1515.5 L1731.74,1515.4 L1733.32,1515.0 L1734.90,1514.8 L1736.50,1514.9 L1738.06,1515.3 L1739.64,1515.6 L1741.24,1515.5 L1742.84,1515.3 L1744.44,1515.2 L1746.04,1515.2 L1747.64,1515.2 L1749.24,1515.3 L1750.80,1515.7 L1752.30,1516.2 L1753.88,1516.6 L1755.48,1516.5 L1757.08,1516.6 L1758.60,1517.1 L1760.06,1517.8 L1761.56,1518.4 L1763.12,1518.8 L1764.72,1518.8 L1766.32,1518.8 L1767.92,1519.1 L1769.44,1519.6 L1770.92,1520.2 L1772.40,1520.9 L1773.92,1521.4 L1775.50,1521.8 L1777.10,1522.0 L1778.66,1522.4 L1780.18,1522.9 L1781.74,1523.3 L1783.34,1523.3 L1784.94,1523.3 L1786.52,1523.6 L1788.08,1524.0 L1789.68,1524.1 L1791.28,1524.1 L1792.86,1524.3 L1794.38,1524.9 L1795.90,1525.4 L1797.48,1525.8 L1799.08,1526.0 L1800.68,1526.1 L1802.28,1526.3 L1803.88,1526.5 L1805.48,1526.8 L1807.06,1527.0 L1808.64,1527.4 L1810.18,1527.8 L1811.72,1528.3 L1813.30,1528.6 L1814.90,1528.7 L1816.50,1528.8 L1818.06,1529.2 L1819.58,1529.7 L1821.16,1530.1 L1822.76,1530.3 L1824.34,1530.6 L1825.90,1531.0 L1827.46,1531.4 L1829.04,1531.7 L1830.58,1532.2 L1832.06,1532.8 L1833.56,1533.4 L1835.16,1533.7 L1836.76,1533.7 L1838.36,1533.8 L1839.92,1534.2 L1841.48,1534.6 L1843.06,1534.8 L1844.66,1535.0 L1846.26,1535.2 L1847.86,1535.4 L1849.44,1535.7 L1850.98,1536.2 L1852.52,1536.6 L1854.08,1537.0 L1855.66,1537.4 L1857.24,1537.6 L1858.84,1537.7 L1860.44,1537.7 L1862.04,1537.7 L1863.64,1537.8 L1865.24,1538.0 L1866.80,1538.4 L1868.36,1538.8 L1869.96,1539.0 L1871.56,1538.9 L1873.16,1538.9 L1874.76,1539.1 L1876.36,1539.3 L1877.94,1539.6 L1879.54,1539.6 L1881.14,1539.4 L1882.74,1539.3 L1884.30,1539.6 L1885.82,1540.2 L1887.42,1540.2 L1889.00,1539.9 L1890.60,1539.8 L1892.18,1540.0 L1893.74,1540.5 L1895.32,1540.8 L1896.92,1540.9 L1898.52,1540.9 L1900.12,1540.7 L1901.72,1540.5 L1903.32,1540.4 L1904.92,1540.5 L1906.52,1540.7 L1908.12,1540.9 L1909.72,1540.9 L1911.32,1540.9 L1912.92,1540.8 L1914.52,1540.6 L1916.08,1540.2 L1917.68,1540.0 L1919.26,1540.3 L1920.82,1540.7 L1922.42,1540.6 L1923.94,1540.1 L1925.52,1539.8 L1927.10,1540.1 L1928.66,1540.5 L1930.26,1540.8 L1931.86,1540.7 L1933.44,1540.4 L1935.00,1540.0 L1936.60,1540.0 L1938.20,1540.2 L1939.80,1540.4 L1940.00,1540.5" stroke="#cc0000"/>
<path d="M150.00,1123.2 L151.60,1123.0 L153.16,1122.6 L154.74,1122.3 L156.34,1122.1 L157.94,1121.9 L159.54,1121.7 L161.12,1121.4 L162.68,1121.0 L164.24,1120.6 L165.80,1120.2 L167.36,1119.8 L168.94,1119.4 L170.52,1119.1 L172.10,1118.8 L173.68,1118.6 L175.28,1118.4 L176.88,1118.4 L178.48,1118.5 L180.08,1118.3 L181.66,1118.0 L183.24,1117.7 L184.84,1117.5 L186.44,1117.5 L188.04,1117.6 L189.64,1117.5 L191.22,1117.2 L192.80,1116.9 L194.40,1116.7 L196.00,1116.7 L197.60,1116.5 L199.20,1116.3 L200.80,1116.1 L202.40,1116.0 L204.00,1115.8 L205.58,1115.6 L207.16,1115.3 L208.74,1115.0 L210.30,1114.6 L211.84,1114.2 L213.36,1113.6 L214.88,1113.1 L216.40,1112.6 L217.80,1111.8 L219.10,1110.8 L220.32,1109.8 L221.50,1108.7 L222.64,1107.6 L223.76,1106.4 L224.86,1105.2 L225.88,1104.0 L226.82,1102.6 L227.70,1101.3 L228.56,1099.9 L229.40,1098.5 L230.24,1097.2 L231.10,1095.8 L232.00,1094.5 L232.94,1093.2 L233.92,1091.9 L234.90,1090.6 L235.84,1089.3 L236.76,1087.9 L237.66,1086.6 L238.56,1085.2 L239.46,1083.9 L240.38,1082.5 L241.36,1081.2 L242.42,1080.0 L243.54,1078.9 L244.66,1077.7 L245.80,1076.6 L246.96,1075.4 L248.16,1074.3 L249.42,1073.3 L250.78,1072.5 L252.24,1071.8 L253.80,1071.4 L255.40,1071.3 L257.00,1071.4 L258.56,1071.7 L259.98,1072.5 L261.30,1073.4 L262.60,1074.4 L263.98,1075.2 L265.36,1076.0 L266.68,1076.9 L267.86,1078.0 L268.94,1079.3 L269.98,1080.5 L271.00,1081.7 L272.00,1083.0 L272.96,1084.3 L273.90,1085.6 L274.82,1086.9 L275.76,1088.2 L276.70,1089.5 L277.66,1090.9 L278.60,1092.2 L279.52,1093.5 L280.40,1094.9 L281.24,1096.3 L282.08,1097.7 L282.94,1099.1 L283.86,1100.4 L284.86,1101.7 L285.92,1102.9 L287.00,1104.1 L288.08,1105.3 L289.18,1106.5 L290.34,1107.6 L291.58,1108.6 L292.88,1109.6 L294.16,1110.6 L295.38,1111.6 L296.54,1112.7 L297.68,1113.9 L298.84,1115.0 L300.04,1116.1 L301.32,1117.1 L302.68,1117.9 L304.08,1118.7 L305.44,1119.6 L306.80,1120.5 L308.22,1121.2 L309.70,1121.9 L311.20,1122.4 L312.68,1123.1 L314.16,1123.7 L315.66,1124.3 L317.22,1124.7 L318.80,1125.0 L320.40,1125.3 L322.00,1125.4 L323.60,1125.7 L325.18,1126.0 L326.78,1126.2 L328.38,1126.4 L329.98,1126.6 L331.58,1126.7 L333.16,1127.0 L334.74,1127.3 L336.34,1127.5 L337.94,1127.4 L339.54,1127.3 L341.14,1127.3 L342.74,1127.4 L344.34,1127.4 L345.94,1127.3 L347.54,1127.2 L349.14,1127.3 L350.74,1127.3 L352.34,1127.4 L353.94,1127.4 L355.54,1127.4 L357.14,1127.5 L358.74,1127.4 L360.34,1127.4 L361.94,1127.4 L363.54,1127.4 L365.14,1127.1 L366.72,1126.8 L368.32,1126.7 L369.92,1126.8 L371.52,1126.7 L373.12,1126.5 L374.72,1126.3 L376.32,1126.3 L377.92,1126.4 L379.52,1126.5 L381.12,1126.4 L382.70,1126.1 L384.28,1125.8 L385.88,1125.6 L387.48,1125.5 L389.08,1125.6 L390.68,1125.5 L392.28,1125.4 L393.88,1125.3 L395.48,1125.2 L397.08,1125.2 L398.68,1125.3 L400.28,1125.1 L401.86,1124.8 L403.46,1124.7 L405.06,1124.7 L406.66,1124.7 L408.26,1124.6 L409.86,1124.4 L411.46,1124.4 L413.06,1124.4 L414.66,1124.4 L416.26,1124.5 L417.86,1124.5 L419.46,1124.5 L421.06,1124.3 L422.64,1124.0 L424.24,1124.0 L425.84,1124.3 L427.44,1124.4 L429.04,1124.3 L430.64,1124.1 L432.24,1124.0 L433.84,1124.0 L435.44,1124.0 L437.04,1124.1 L438.64,1123.9 L440.18,1123.4 L441.68,1122.8 L443.16,1122.2 L444.62,1121.5 L445.96,1120.6 L447.18,1119.6 L448.34,1118.5 L449.50,1117.3 L450.68,1116.2 L451.94,1115.2 L453.28,1114.3 L454.64,1113.5 L455.94,1112.5 L457.16,1111.4 L458.40,1110.4 L459.72,1109.5 L461.10,1108.6 L462.50,1107.9 L463.90,1107.1 L465.28,1106.2 L466.64,1105.4 L467.98,1104.5 L469.34,1103.6 L470.74,1102.8 L472.18,1102.1 L473.68,1101.5 L475.20,1101.0 L476.66,1100.3 L478.06,1099.5 L479.50,1098.8 L481.04,1098.3 L482.62,1098.0 L484.16,1097.5 L485.68,1097.0 L487.22,1096.5 L488.80,1096.2 L490.36,1095.8 L491.90,1095.3 L493.42,1094.8 L494.92,1094.2 L496.44,1093.7 L498.02,1093.4 L499.62,1093.4 L501.22,1093.5 L502.82,1093.7 L504.40,1094.0 L505.96,1094.4 L507.52,1094.8 L509.10,1095.1 L510.68,1095.4 L512.26,1095.7 L513.82,1096.2 L515.36,1096.6 L516.88,1097.2 L518.40,1097.7 L519.94,1098.2 L521.50,1098.6 L523.08,1098.9 L524.64,1099.2 L526.14,1099.8 L527.60,1100.5 L529.10,1101.0 L530.64,1101.5 L532.16,1102.0 L533.64,1102.7 L535.06,1103.5 L536.42,1104.3 L537.74,1105.2 L539.08,1106.1 L540.46,1107.0 L541.86,1107.8 L543.28,1108.5 L544.72,1109.3 L546.22,1109.9 L547.76,1110.3 L549.34,1110.6 L550.94,1110.9 L552.54,1111.0 L554.14,1111.2 L555.74,1111.4 L557.34,1111.6 L558.94,1111.8 L560.54,1112.0 L562.12,1112.2 L563.70,1112.6 L565.26,1113.0 L566.80,1113.5 L568.30,1114.0 L569.80,1114.6 L571.34,1115.1 L572.90,1115.5 L574.46,1115.9 L576.00,1116.3 L577.54,1116.8 L579.08,1117.3 L580.62,1117.8 L582.20,1118.1 L583.78,1118.4 L585.38,1118.6 L586.98,1118.9 L588.56,1119.2 L590.12,1119.6 L591.72,1119.8 L593.32,1119.8 L594.92,1119.8 L596.50,1120.1 L598.04,1120.5 L599.56,1121.1 L601.08,1121.6 L602.64,1122.1 L604.22,1122.4 L605.82,1122.6 L607.42,1122.9 L609.02,1123.1 L610.62,1123.2 L612.22,1123.1 L613.80,1122.9 L615.36,1122.5 L616.94,1122.2 L618.54,1122.0 L620.10,1121.6 L621.58,1121.0 L623.06,1120.4 L624.60,1119.9 L626.18,1119.6 L627.78,1119.5 L629.38,1119.4 L630.98,1119.3 L632.58,1119.1 L634.16,1118.8 L635.74,1118.5 L637.34,1118.4 L638.94,1118.3 L640.54,1118.1 L642.06,1117.6 L643.58,1117.1 L645.18,1116.8 L646.78,1116.7 L648.30,1116.2 L649.66,1115.3 L650.92,1114.3 L652.16,1113.3 L653.42,1112.2 L654.72,1111.3 L656.08,1110.4 L657.46,1109.6 L658.76,1108.6 L660.00,1107.6 L661.24,1106.5 L662.52,1105.5 L663.84,1104.6 L665.12,1103.6 L666.34,1102.5 L667.56,1101.5 L668.88,1100.6 L670.32,1099.9 L671.76,1099.1 L673.14,1098.3 L674.50,1097.4 L675.88,1096.6 L677.32,1095.9 L678.78,1095.2 L680.26,1094.6 L681.76,1094.0 L683.30,1093.5 L684.90,1093.3 L686.50,1093.4 L688.06,1093.8 L689.60,1094.3 L691.14,1094.8 L692.66,1095.3 L694.10,1096.0 L695.50,1096.8 L696.92,1097.5 L698.40,1098.2 L699.90,1098.7 L701.38,1099.4 L702.82,1100.1 L704.22,1100.9 L705.58,1101.7 L706.94,1102.6 L708.30,1103.5 L709.66,1104.3 L710.98,1105.2 L712.28,1106.2 L713.60,1107.1 L714.96,1108.0 L716.38,1108.7 L717.84,1109.4 L719.30,1110.1 L720.76,1110.8 L722.24,1111.4 L723.72,1112.0 L725.18,1112.7 L726.60,1113.5 L728.04,1114.2 L729.50,1114.9 L731.00,1115.5 L732.50,1116.1 L734.00,1116.7 L735.48,1117.3 L736.96,1117.9 L738.48,1118.4 L740.08,1118.7 L741.68,1118.8 L743.26,1119.1 L744.82,1119.4 L746.40,1119.8 L747.98,1120.1 L749.58,1120.3 L751.18,1120.5 L752.78,1120.7 L754.38,1121.0 L755.98,1121.2 L757.58,1121.4 L759.18,1121.6 L760.78,1121.7 L762.38,1121.8 L763.98,1121.9 L765.58,1121.8 L767.18,1121.7 L768.78,1121.5 L770.38,1121.4 L771.98,1121.2 L773.58,1121.0 L775.16,1120.7 L776.74,1120.5 L778.34,1120.3 L779.94,1120.3 L781.54,1120.4 L783.14,1120.6 L784.74,1120.9 L786.32,1121.1 L787.88,1121.5 L789.40,1122.0 L790.94,1122.5 L792.52,1122.9 L794.10,1123.1 L795.68,1123.4 L797.26,1123.8 L798.84,1124.1 L800.44,1124.2 L802.04,1124.3 L803.64,1124.3 L805.24,1124.1 L806.84,1123.9 L808.42,1123.6 L810.00,1123.2 L811.58,1122.9 L813.16,1122.6 L814.74,1122.2 L816.30,1121.8 L817.86,1121.4 L819.44,1121.2 L821.04,1121.0 L822.64,1120.9 L824.24,1120.7 L825.82,1120.5 L827.40,1120.2 L828.98,1119.9 L830.58,1119.7 L832.18,1119.5 L833.78,1119.3 L835.36,1119.0 L836.96,1118.8 L838.56,1118.7 L840.16,1118.5 L841.74,1118.2 L843.30,1117.8 L844.88,1117.6 L846.46,1117.3 L848.02,1116.9 L849.54,1116.4 L851.04,1115.8 L852.56,1115.3 L854.06,1114.7 L855.54,1114.0 L857.00,1113.4 L858.48,1112.7 L859.98,1112.1 L861.50,1111.6 L863.02,1111.1 L864.56,1110.6 L866.10,1110.1 L867.62,1109.6 L869.08,1108.9 L870.52,1108.2 L872.00,1107.6 L873.50,1107.0 L874.90,1106.2 L876.10,1105.1 L877.18,1103.9 L878.18,1102.6 L879.14,1101.3 L880.10,1100.0 L881.06,1098.7 L882.04,1097.4 L883.06,1096.2 L884.12,1095.0 L885.26,1093.8 L886.44,1092.7 L887.62,1091.6 L888.80,1090.5 L889.98,1089.4 L891.18,1088.3 L892.44,1087.3 L893.78,1086.4 L895.18,1085.6 L896.56,1084.7 L897.92,1083.9 L899.26,1083.0 L900.62,1082.1 L902.00,1081.3 L903.42,1080.5 L904.92,1079.9 L906.50,1079.6 L908.10,1079.6 L909.70,1079.8 L911.26,1080.2 L912.80,1080.7 L914.36,1081.1 L915.94,1081.4 L917.54,1081.5 L919.14,1081.7 L920.74,1081.7 L922.34,1081.8 L923.94,1081.6 L925.50,1081.2 L927.04,1080.7 L928.62,1080.4 L930.22,1080.2 L931.72,1079.6 L933.02,1078.7 L934.20,1077.6 L935.34,1076.4 L936.48,1075.3 L937.60,1074.1 L938.72,1073.0 L939.84,1071.8 L940.88,1070.5 L941.82,1069.2 L942.68,1067.9 L943.50,1066.5 L944.28,1065.0 L945.06,1063.6 L945.82,1062.2 L946.56,1060.7 L947.22,1059.3 L947.80,1057.8 L948.32,1056.2 L948.80,1054.7 L949.24,1053.1 L949.66,1051.6 L950.08,1049.9 L950.48,1048.4 L950.88,1046.7 L951.26,1045.1 L951.64,1043.6 L952.02,1042.0 L952.40,1040.4 L952.78,1038.9 L953.16,1037.3 L953.54,1035.7 L953.90,1034.1 L954.26,1032.5 L954.60,1030.9 L954.94,1029.3 L955.26,1027.7 L955.58,1026.1 L955.88,1024.5 L956.18,1022.9 L956.48,1021.2 L956.76,1019.6 L957.04,1017.9 L957.30,1016.3 L957.56,1014.7 L957.82,1013.1 L958.08,1011.4 L958.32,1009.8 L958.56,1008.1 L958.78,1006.5 L959.00,1004.8 L959.20,1003.2 L959.40,1001.6 L959.60,999.8 L959.78,998.2 L959.96,996.5 L960.12,994.8 L960.28,993.0 L960.42,991.3 L960.56,989.5 L960.68,987.8 L960.80,986.1 L960.92,984.3 L961.04,982.5 L961.16,980.6 L961.26,978.9 L961.36,977.3 L961.46,975.6 L961.56,973.9 L961.66,972.1 L961.76,970.4 L961.86,968.6 L961.96,966.8 L962.06,965.0 L962.16,963.2 L962.26,961.4 L962.36,959.6 L962.46,957.8 L962.56,956.0 L962.66,954.2 L962.76,952.4 L962.86,950.7 L962.96,948.9 L963.06,947.2 L963.16,945.5 L963.26,943.8 L963.36,942.2 L963.48,940.3 L963.60,938.5 L963.72,936.7 L963.84,934.9 L963.96,933.3 L964.08,931.7 L964.20,930.1 L964.34,928.2 L964.48,926.4 L964.62,924.7 L964.76,922.9 L964.90,921.2 L965.04,919.5 L965.18,917.8 L965.32,916.1 L965.46,914.4 L965.60,912.8 L965.74,911.2 L965.88,909.6 L966.02,908.0 L966.16,906.4 L966.32,904.5 L966.48,902.7 L966.64,900.9 L966.80,899.1 L966.96,897.3 L967.12,895.5 L967.28,893.7 L967.42,892.1 L967.56,890.5 L967.70,888.9 L967.84,887.2 L967.98,885.6 L968.12,883.9 L968.26,882.2 L968.40,880.5 L968.54,878.8 L968.68,877.0 L968.82,875.3 L968.96,873.5 L969.10,871.7 L969.24,869.9 L969.38,868.1 L969.52,866.3 L969.66,864.5 L969.80,862.7 L969.94,860.9 L970.08,859.1 L970.22,857.3 L970.36,855.6 L970.50,853.8 L970.64,852.0 L970.78,850.3 L970.92,848.5 L971.06,846.8 L971.20,845.1 L971.34,843.4 L971.48,841.8 L971.62,840.1 L971.76,838.5 L971.92,836.7 L972.08,835.0 L972.24,833.3 L972.40,831.6 L972.56,829.9 L972.72,828.2 L972.88,826.6 L973.04,824.9 L973.20,823.3 L973.36,821.7 L973.52,820.1 L973.70,818.3 L973.88,816.5 L974.06,814.8 L974.24,813.1 L974.42,811.4 L974.60,809.7 L974.78,808.0 L974.96,806.3 L975.14,804.7 L975.32,803.1 L975.50,801.5 L975.70,799.7 L975.90,798.0 L976.10,796.3 L976.30,794.6 L976.50,793.0 L976.70,791.3 L976.90,789.7 L977.12,788.0 L977.34,786.3 L977.56,784.6 L977.78,783.0 L978.00,781.3 L978.22,779.7 L978.44,778.1 L978.66,776.5 L978.88,774.9 L979.12,773.2 L979.36,771.5 L979.60,769.8 L979.84,768.2 L980.08,766.6 L980.34,764.9 L980.60,763.2 L980.88,761.6 L981.16,759.9 L981.46,758.3 L981.78,756.6 L982.12,755.0 L982.48,753.4 L982.88,751.8 L983.30,750.2 L983.70,748.7 L984.10,747.1 L984.52,745.5 L984.94,743.9 L985.40,742.3 L985.90,740.8 L986.46,739.2 L987.18,737.8 L988.64,737.1 L989.54,738.5 L990.14,740.0 L990.66,741.5 L991.12,743.1 L991.56,744.6 L991.98,746.2 L992.40,747.8 L992.82,749.3 L993.26,751.0 L993.70,752.5 L994.14,754.1 L994.56,755.8 L994.96,757.4 L995.34,759.0 L995.70,760.6 L996.04,762.2 L996.38,763.8 L996.70,765.4 L997.02,767.0 L997.32,768.6 L997.62,770.2 L997.92,771.9 L998.20,773.5 L998.48,775.1 L998.76,776.8 L999.02,778.5 L999.28,780.1 L999.54,781.8 L999.78,783.4 L1000.02,785.1 L1000.24,786.8 L1000.44,788.4 L1000.64,790.1 L1000.84,791.8 L1001.02,793.5 L1001.20,795.2 L1001.38,796.9 L1001.56,798.7 L1001.72,800.4 L1001.88,802.0 L1002.04,803.7 L1002.20,805.4 L1002.36,807.1 L1002.52,808.8 L1002.68,810.6 L1002.84,812.3 L1003.00,814.1 L1003.16,815.9 L1003.32,817.6 L1003.48,819.4 L1003.64,821.2 L1003.80,822.9 L1003.96,824.6 L1004.12,826.4 L1004.28,828.1 L1004.44,829.8 L1004.60,831.4 L1004.76,833.1 L1004.92,834.7 L1005.08,836.3 L1005.24,837.9 L1005.40,839.5 L1005.56,841.1 L1005.72,842.7 L1005.88,844.3 L1006.04,845.9 L1006.20,847.5 L1006.36,849.1 L1006.52,850.7 L1006.68,852.3 L1006.84,853.9 L1007.00,855.5 L1007.16,857.2 L1007.32,858.8 L1007.48,860.4 L1007.64,862.1 L1007.80,863.7 L1007.96,865.4 L1008.12,867.0 L1008.28,868.7 L1008.44,870.4 L1008.60,872.1 L1008.76,873.8 L1008.92,875.5 L1009.08,877.2 L1009.24,878.9 L1009.40,880.6 L1009.56,882.4 L1009.72,884.2 L1009.88,886.0 L1010.04,887.8 L1010.18,889.4 L1010.32,891.0 L1010.46,892.7 L1010.60,894.4 L1010.74,896.1 L1010.88,897.8 L1011.02,899.5 L1011.16,901.2 L1011.30,902.9 L1011.44,904.6 L1011.58,906.3 L1011.72,908.1 L1011.86,909.8 L1012.00,911.5 L1012.14,913.2 L1012.28,914.9 L1012.42,916.5 L1012.56,918.2 L1012.70,919.9 L1012.84,921.5 L1012.98,923.1 L1013.14,924.9 L1013.30,926.7 L1013.46,928.4 L1013.62,930.2 L1013.78,931.8 L1013.94,933.4 L1014.12,935.2 L1014.30,937.0 L1014.48,938.7 L1014.66,940.5 L1014.84,942.2 L1015.02,943.9 L1015.20,945.6 L1015.38,947.3 L1015.56,948.9 L1015.74,950.6 L1015.92,952.2 L1016.10,953.8 L1016.28,955.4 L1016.46,957.0 L1016.66,958.8 L1016.86,960.6 L1017.06,962.3 L1017.26,964.0 L1017.46,965.7 L1017.66,967.4 L1017.86,969.1 L1018.06,970.8 L1018.26,972.4 L1018.46,974.1 L1018.66,975.7 L1018.86,977.3 L1019.06,978.9 L1019.26,980.5 L1019.48,982.2 L1019.70,984.0 L1019.92,985.7 L1020.14,987.3 L1020.36,989.0 L1020.58,990.7 L1020.80,992.3 L1021.04,994.0 L1021.28,995.6 L1021.52,997.3 L1021.76,998.9 L1022.02,1000.6 L1022.28,1002.2 L1022.54,1003.9 L1022.80,1005.6 L1023.06,1007.2 L1023.32,1008.9 L1023.58,1010.6 L1023.82,1012.2 L1024.06,1013.9 L1024.30,1015.5 L1024.54,1017.2 L1024.78,1018.9 L1025.02,1020.6 L1025.26,1022.3 L1025.50,1024.0 L1025.74,1025.7 L1025.98,1027.4 L1026.22,1029.1 L1026.46,1030.7 L1026.72,1032.4 L1026.98,1034.0 L1027.24,1035.6 L1027.52,1037.3 L1027.82,1038.9 L1028.14,1040.5 L1028.46,1042.1 L1028.80,1043.7 L1029.14,1045.3 L1029.50,1046.9 L1029.86,1048.5 L1030.24,1050.2 L1030.62,1051.7 L1031.02,1053.3 L1031.42,1054.9 L1031.84,1056.5 L1032.28,1058.1 L1032.72,1059.7 L1033.18,1061.3 L1033.64,1062.8 L1034.12,1064.4 L1034.60,1065.9 L1035.10,1067.5 L1035.58,1069.1 L1036.06,1070.6 L1036.54,1072.1 L1037.04,1073.7 L1037.56,1075.3 L1038.10,1076.8 L1038.66,1078.3 L1039.28,1079.9 L1039.98,1081.4 L1040.82,1082.7 L1041.80,1084.0 L1042.78,1085.3 L1043.78,1086.6 L1044.84,1087.8 L1046.02,1088.9 L1047.42,1089.7 L1049.02,1089.9 L1050.62,1089.9 L1052.22,1089.8 L1053.82,1089.6 L1055.38,1089.2 L1056.94,1088.8 L1058.54,1088.6 L1060.14,1088.6 L1061.74,1088.6 L1063.34,1088.4 L1064.94,1088.2 L1066.52,1087.9 L1068.12,1087.7 L1069.72,1087.9 L1071.28,1088.3 L1072.78,1088.9 L1074.26,1089.6 L1075.72,1090.3 L1077.14,1091.0 L1078.54,1091.8 L1079.94,1092.6 L1081.38,1093.3 L1082.90,1093.8 L1084.44,1094.3 L1085.92,1094.9 L1087.36,1095.7 L1088.82,1096.3 L1090.32,1096.9 L1091.86,1097.4 L1093.42,1097.7 L1095.02,1097.9 L1096.62,1097.9 L1098.22,1097.7 L1099.78,1097.4 L1101.32,1096.9 L1102.84,1096.4 L1104.36,1095.8 L1105.82,1095.1 L1107.18,1094.3 L1108.48,1093.3 L1109.62,1092.2 L1110.64,1090.9 L1111.60,1089.6 L1112.52,1088.3 L1113.44,1087.0 L1114.42,1085.7 L1115.50,1084.5 L1116.68,1083.4 L1117.86,1082.3 L1119.06,1081.2 L1120.28,1080.2 L1121.52,1079.1 L1122.88,1078.3 L1124.42,1077.8 L1126.02,1077.9 L1127.52,1078.5 L1128.90,1079.3 L1130.20,1080.3 L1131.46,1081.3 L1132.70,1082.3 L1133.92,1083.4 L1135.10,1084.5 L1136.18,1085.7 L1137.14,1087.0 L1138.02,1088.3 L1138.86,1089.7 L1139.68,1091.1 L1140.50,1092.5 L1141.34,1093.9 L1142.20,1095.3 L1143.08,1096.6 L1143.98,1098.0 L1144.88,1099.3 L1145.76,1100.7 L1146.62,1102.1 L1147.48,1103.4 L1148.36,1104.8 L1149.26,1106.1 L1150.18,1107.5 L1151.12,1108.8 L1152.08,1110.1 L1153.06,1111.3 L1154.06,1112.6 L1155.08,1113.9 L1156.14,1115.1 L1157.24,1116.3 L1158.38,1117.4 L1159.56,1118.5 L1160.76,1119.6 L1161.98,1120.6 L1163.22,1121.7 L1164.48,1122.7 L1165.78,1123.6 L1167.16,1124.4 L1168.58,1125.2 L1170.00,1125.9 L1171.46,1126.6 L1173.00,1127.0 L1174.60,1127.1 L1176.20,1126.9 L1177.78,1126.6 L1179.34,1126.2 L1180.88,1125.8 L1182.38,1125.2 L1183.82,1124.5 L1185.24,1123.7 L1186.72,1123.1 L1188.32,1122.8 L1189.92,1122.9 L1191.52,1122.9 L1193.12,1122.7 L1194.70,1122.4 L1196.26,1122.0 L1197.86,1121.8 L1199.46,1121.9 L1201.06,1122.0 L1202.66,1122.0 L1204.26,1122.0 L1205.86,1121.9 L1207.46,1121.8 L1209.06,1121.8 L1210.66,1122.0 L1212.26,1122.2 L1213.84,1122.4 L1215.42,1122.7 L1217.00,1123.0 L1218.60,1123.3 L1220.20,1123.5 L1221.80,1123.7 L1223.38,1124.1 L1224.96,1124.3 L1226.56,1124.5 L1228.16,1124.5 L1229.74,1124.3 L1231.32,1124.0 L1232.92,1124.0 L1234.50,1124.3 L1236.10,1124.5 L1237.70,1124.4 L1239.30,1124.2 L1240.88,1123.9 L1242.42,1123.5 L1243.94,1123.0 L1245.46,1122.5 L1247.00,1122.0 L1248.56,1121.7 L1250.14,1121.3 L1251.72,1121.1 L1253.32,1121.0 L1254.92,1121.0 L1256.52,1121.1 L1258.12,1121.0 L1259.72,1121.0 L1261.32,1121.2 L1262.92,1121.4 L1264.52,1121.5 L1266.12,1121.3 L1267.72,1121.2 L1269.32,1121.3 L1270.88,1121.7 L1272.40,1122.2 L1273.90,1122.8 L1275.44,1123.3 L1277.00,1123.7 L1278.58,1124.1 L1280.18,1124.3 L1281.78,1124.2 L1283.38,1124.1 L1284.98,1124.2 L1286.56,1124.5 L1288.16,1124.7 L1289.76,1124.7 L1291.36,1124.6 L1292.96,1124.6 L1294.56,1124.7 L1296.16,1124.7 L1297.76,1124.4 L1299.34,1124.1 L1300.92,1123.8 L1302.50,1123.5 L1304.08,1123.1 L1305.66,1122.8 L1307.24,1122.4 L1308.80,1122.0 L1310.34,1121.5 L1311.86,1121.0 L1313.38,1120.4 L1314.90,1119.9 L1316.40,1119.3 L1317.84,1118.6 L1319.26,1117.9 L1320.70,1117.1 L1322.16,1116.4 L1323.58,1115.7 L1324.92,1114.8 L1326.16,1113.8 L1327.28,1112.6 L1328.34,1111.4 L1329.38,1110.1 L1330.46,1108.9 L1331.60,1107.8 L1332.78,1106.7 L1333.94,1105.5 L1335.04,1104.3 L1336.08,1103.1 L1337.08,1101.9 L1338.04,1100.6 L1338.98,1099.2 L1339.94,1097.9 L1340.92,1096.7 L1341.94,1095.4 L1342.96,1094.1 L1343.96,1092.9 L1344.90,1091.6 L1345.82,1090.2 L1346.72,1088.9 L1347.62,1087.5 L1348.52,1086.2 L1349.42,1084.8 L1350.30,1083.5 L1351.14,1082.1 L1351.94,1080.7 L1352.72,1079.3 L1353.50,1077.9 L1354.28,1076.5 L1355.06,1075.1 L1355.86,1073.6 L1356.66,1072.2 L1357.44,1070.8 L1358.20,1069.4 L1358.94,1067.9 L1359.66,1066.5 L1360.38,1065.0 L1361.08,1063.6 L1361.78,1062.1 L1362.46,1060.6 L1363.14,1059.2 L1363.82,1057.7 L1364.50,1056.2 L1365.18,1054.7 L1365.84,1053.2 L1366.50,1051.8 L1367.16,1050.3 L1367.82,1048.8 L1368.48,1047.3 L1369.14,1045.9 L1369.82,1044.4 L1370.50,1042.9 L1371.20,1041.5 L1371.92,1040.0 L1372.66,1038.5 L1373.42,1037.1 L1374.18,1035.6 L1374.92,1034.2 L1375.66,1032.8 L1376.38,1031.3 L1377.10,1029.9 L1377.84,1028.5 L1378.60,1027.0 L1379.40,1025.6 L1380.24,1024.2 L1381.12,1022.9 L1382.00,1021.5 L1382.84,1020.1 L1383.64,1018.7 L1384.42,1017.3 L1385.22,1015.9 L1386.06,1014.5 L1386.96,1013.2 L1387.92,1011.9 L1388.94,1010.6 L1389.98,1009.3 L1391.04,1008.1 L1392.08,1006.9 L1393.12,1005.7 L1394.24,1004.5 L1395.48,1003.5 L1396.90,1002.7 L1398.50,1002.6 L1400.06,1003.0 L1401.52,1003.7 L1402.88,1004.5 L1404.12,1005.6 L1405.28,1006.7 L1406.42,1007.8 L1407.58,1008.9 L1408.66,1010.1 L1409.64,1011.4 L1410.54,1012.7 L1411.38,1014.1 L1412.16,1015.5 L1412.92,1017.0 L1413.66,1018.4 L1414.40,1019.9 L1415.12,1021.3 L1415.78,1022.8 L1416.38,1024.3 L1416.94,1025.9 L1417.48,1027.4 L1418.00,1028.9 L1418.50,1030.4 L1419.00,1032.0 L1419.50,1033.5 L1420.02,1035.1 L1420.54,1036.6 L1421.08,1038.2 L1421.60,1039.7 L1422.12,1041.2 L1422.64,1042.8 L1423.16,1044.3 L1423.70,1045.9 L1424.24,1047.4 L1424.80,1048.9 L1425.38,1050.4 L1426.00,1052.0 L1426.66,1053.5 L1427.36,1054.9 L1428.08,1056.4 L1428.84,1057.8 L1429.62,1059.2 L1430.42,1060.6 L1431.24,1062.0 L1432.08,1063.4 L1432.92,1064.8 L1433.76,1066.2 L1434.60,1067.6 L1435.44,1069.0 L1436.28,1070.4 L1437.14,1071.7 L1438.00,1073.1 L1438.88,1074.5 L1439.78,1075.8 L1440.70,1077.1 L1441.66,1078.4 L1442.66,1079.7 L1443.70,1080.9 L1444.76,1082.1 L1445.84,1083.3 L1446.98,1084.5 L1448.16,1085.6 L1449.38,1086.7 L1450.64,1087.7 L1451.98,1088.6 L1453.44,1089.3 L1454.96,1089.8 L1456.48,1090.3 L1457.96,1090.9 L1459.48,1091.5 L1461.06,1091.8 L1462.64,1092.2 L1464.16,1092.7 L1465.62,1093.4 L1467.12,1093.9 L1468.66,1094.4 L1470.14,1095.1 L1471.46,1096.0 L1472.72,1097.0 L1474.00,1098.0 L1475.34,1098.9 L1476.72,1099.7 L1478.10,1100.6 L1479.46,1101.4 L1480.76,1102.4 L1482.02,1103.4 L1483.26,1104.4 L1484.54,1105.4 L1485.86,1106.3 L1487.26,1107.1 L1488.74,1107.8 L1490.30,1108.2 L1491.88,1108.4 L1493.48,1108.6 L1495.08,1108.7 L1496.68,1108.9 L1498.28,1109.1 L1499.88,1109.3 L1501.48,1109.2 L1503.06,1108.9 L1504.64,1108.5 L1506.24,1108.4 L1507.84,1108.4 L1509.44,1108.2 L1511.00,1107.8 L1512.56,1107.4 L1514.14,1107.1 L1515.74,1106.9 L1517.34,1106.8 L1518.94,1106.8 L1520.54,1106.9 L1522.14,1107.1 L1523.74,1107.4 L1525.34,1107.6 L1526.92,1107.9 L1528.48,1108.3 L1530.06,1108.7 L1531.64,1109.0 L1533.18,1109.5 L1534.62,1110.3 L1535.98,1111.1 L1537.34,1112.0 L1538.72,1112.8 L1540.04,1113.8 L1541.24,1114.8 L1542.40,1115.9 L1543.62,1117.0 L1544.94,1117.9 L1546.28,1118.9 L1547.56,1119.8 L1548.78,1120.9 L1549.98,1122.0 L1551.20,1123.0 L1552.48,1124.0 L1553.90,1124.7 L1555.48,1125.1 L1557.08,1125.2 L1558.66,1125.6 L1560.22,1126.0 L1561.80,1126.3 L1563.40,1126.5 L1565.00,1126.6 L1566.60,1126.6 L1568.20,1126.6 L1569.80,1126.6 L1571.40,1126.6 L1573.00,1126.7 L1574.60,1126.6 L1576.18,1126.3 L1577.74,1125.9 L1579.30,1125.5 L1580.88,1125.1 L1582.46,1124.9 L1584.06,1124.6 L1585.62,1124.2 L1587.08,1123.5 L1588.50,1122.8 L1589.94,1122.1 L1591.42,1121.4 L1592.90,1120.8 L1594.36,1120.1 L1595.82,1119.4 L1597.28,1118.7 L1598.70,1118.0 L1600.08,1117.1 L1601.42,1116.2 L1602.74,1115.3 L1604.08,1114.4 L1605.44,1113.6 L1606.80,1112.7 L1608.14,1111.8 L1609.46,1110.9 L1610.76,1109.9 L1612.04,1108.9 L1613.28,1107.9 L1614.48,1106.8 L1615.60,1105.7 L1616.64,1104.4 L1617.60,1103.1 L1618.50,1101.8 L1619.34,1100.4 L1620.14,1099.0 L1620.92,1097.6 L1621.66,1096.1 L1622.36,1094.7 L1623.02,1093.2 L1623.58,1091.7 L1624.08,1090.1 L1624.54,1088.5 L1624.98,1086.9 L1625.40,1085.3 L1625.80,1083.7 L1626.20,1082.1 L1626.58,1080.5 L1626.94,1078.9 L1627.30,1077.2 L1627.64,1075.6 L1627.98,1074.0 L1628.30,1072.4 L1628.62,1070.8 L1628.94,1069.1 L1629.24,1067.5 L1629.54,1065.9 L1629.82,1064.3 L1630.10,1062.6 L1630.36,1061.0 L1630.60,1059.4 L1630.84,1057.7 L1631.06,1056.1 L1631.26,1054.5 L1631.46,1052.7 L1631.64,1051.1 L1631.82,1049.5 L1632.00,1047.8 L1632.18,1046.2 L1632.36,1044.5 L1632.54,1042.7 L1632.72,1041.0 L1632.88,1039.4 L1633.04,1037.7 L1633.20,1036.1 L1633.36,1034.4 L1633.52,1032.8 L1633.68,1031.2 L1633.84,1029.5 L1634.00,1027.9 L1634.16,1026.3 L1634.32,1024.7 L1634.48,1023.1 L1634.64,1021.5 L1634.80,1019.9 L1634.96,1018.3 L1635.14,1016.5 L1635.32,1014.8 L1635.50,1013.1 L1635.68,1011.4 L1635.86,1009.8 L1636.04,1008.1 L1636.22,1006.4 L1636.40,1004.8 L1636.58,1003.1 L1636.76,1001.3 L1636.94,999.6 L1637.10,998.0 L1637.26,996.3 L1637.42,994.6 L1637.58,992.9 L1637.74,991.0 L1637.88,989.4 L1638.02,987.7 L1638.16,986.0 L1638.30,984.1 L1638.42,982.5 L1638.54,980.8 L1638.66,979.1 L1638.78,977.3 L1638.90,975.4 L1639.00,973.7 L1639.10,972.1 L1639.20,970.4 L1639.30,968.7 L1639.40,966.9 L1639.50,965.1 L1639.60,963.3 L1639.70,961.4 L1639.80,959.5 L1639.90,957.6 L1640.00,955.7 L1640.10,953.7 L1640.20,951.7 L1640.28,950.1 L1640.36,948.5 L1640.44,946.9 L1640.52,945.3 L1640.60,943.6 L1640.68,942.0 L1640.76,940.3 L1640.84,938.7 L1640.92,937.0 L1641.00,935.3 L1641.08,933.7 L1641.16,932.0 L1641.24,930.3 L1641.32,928.7 L1641.40,927.0 L1641.48,925.3 L1641.56,923.6 L1641.64,922.0 L1641.72,920.3 L1641.80,918.7 L1641.88,917.0 L1641.96,915.4 L1642.04,913.7 L1642.12,912.1 L1642.20,910.5 L1642.28,908.9 L1642.36,907.3 L1642.46,905.3 L1642.56,903.3 L1642.66,901.4 L1642.76,899.4 L1642.86,897.5 L1642.96,895.5 L1643.06,893.6 L1643.16,891.6 L1643.26,889.6 L1643.36,887.6 L1643.46,885.7 L1643.54,884.0 L1643.62,882.4 L1643.70,880.8 L1643.78,879.2 L1643.86,877.6 L1643.94,876.0 L1644.02,874.4 L1644.10,872.7 L1644.18,871.1 L1644.26,869.5 L1644.34,867.8 L1644.42,866.2 L1644.50,864.6 L1644.58,863.0 L1644.66,861.3 L1644.74,859.7 L1644.82,858.1 L1644.90,856.4 L1644.98,854.8 L1645.06,853.2 L1645.14,851.5 L1645.22,849.9 L1645.30,848.3 L1645.38,846.7 L1645.46,845.1 L1645.54,843.5 L1645.62,841.9 L1645.70,840.3 L1645.80,838.3 L1645.90,836.3 L1646.00,834.3 L1646.10,832.3 L1646.20,830.4 L1646.30,828.5 L1646.40,826.5 L1646.50,824.6 L1646.60,822.7 L1646.70,820.8 L1646.80,819.0 L1646.90,817.1 L1647.00,815.3 L1647.10,813.4 L1647.20,811.6 L1647.30,809.7 L1647.40,807.9 L1647.50,806.0 L1647.60,804.1 L1647.70,802.3 L1647.80,800.4 L1647.90,798.5 L1648.00,796.7 L1648.10,794.8 L1648.20,793.0 L1648.30,791.1 L1648.40,789.2 L1648.50,787.4 L1648.60,785.6 L1648.70,783.7 L1648.80,781.9 L1648.90,780.1 L1649.00,778.3 L1649.10,776.5 L1649.20,774.7 L1649.30,773.0 L1649.40,771.2 L1649.50,769.5 L1649.60,767.7 L1649.70,766.0 L1649.80,764.3 L1649.90,762.6 L1650.00,761.0 L1650.10,759.3 L1650.20,757.7 L1650.30,756.1 L1650.42,754.2 L1650.54,752.3 L1650.66,750.4 L1650.78,748.6 L1650.90,746.8 L1651.02,745.1 L1651.14,743.4 L1651.26,741.7 L1651.38,740.1 L1651.52,738.2 L1651.66,736.4 L1651.80,734.7 L1651.94,733.0 L1652.08,731.3 L1652.22,729.7 L1652.36,728.0 L1652.50,726.4 L1652.64,724.8 L1652.80,723.0 L1652.96,721.2 L1653.12,719.4 L1653.28,717.7 L1653.44,716.0 L1653.60,714.3 L1653.76,712.7 L1653.92,711.1 L1654.10,709.3 L1654.28,707.6 L1654.46,706.0 L1654.66,704.3 L1654.86,702.6 L1655.08,700.9 L1655.30,699.3 L1655.54,697.6 L1655.80,696.0 L1656.10,694.4 L1656.40,692.8 L1656.70,691.2 L1657.02,689.5 L1657.34,687.9 L1657.68,686.2 L1658.02,684.7 L1658.40,683.1 L1658.82,681.5 L1659.32,679.9 L1660.02,678.5 L1661.48,679.2 L1662.02,680.7 L1662.46,682.3 L1662.84,683.9 L1663.18,685.5 L1663.50,687.1 L1663.82,688.7 L1664.14,690.4 L1664.46,692.1 L1664.78,693.7 L1665.10,695.3 L1665.42,696.9 L1665.72,698.5 L1666.02,700.2 L1666.30,701.8 L1666.58,703.4 L1666.84,705.0 L1667.10,706.6 L1667.36,708.3 L1667.60,709.9 L1667.84,711.5 L1668.08,713.2 L1668.32,714.9 L1668.54,716.5 L1668.76,718.2 L1668.98,719.9 L1669.20,721.6 L1669.40,723.2 L1669.60,724.9 L1669.80,726.6 L1670.00,728.3 L1670.20,730.0 L1670.38,731.6 L1670.56,733.2 L1670.74,734.9 L1670.90,736.5 L1671.06,738.2 L1671.22,740.0 L1671.36,741.6 L1671.50,743.3 L1671.64,745.1 L1671.78,746.8 L1671.92,748.7 L1672.04,750.3 L1672.16,752.0 L1672.28,753.7 L1672.40,755.4 L1672.52,757.1 L1672.64,758.9 L1672.76,760.7 L1672.88,762.5 L1673.00,764.3 L1673.12,766.2 L1673.24,768.1 L1673.36,770.0 L1673.48,771.9 L1673.58,773.5 L1673.68,775.1 L1673.78,776.7 L1673.88,778.3 L1673.98,779.9 L1674.08,781.5 L1674.18,783.2 L1674.28,784.8 L1674.38,786.4 L1674.48,788.0 L1674.58,789.6 L1674.68,791.2 L1674.78,792.9 L1674.88,794.5 L1675.00,796.4 L1675.12,798.3 L1675.24,800.1 L1675.36,802.0 L1675.48,803.8 L1675.60,805.7 L1675.72,807.5 L1675.84,809.2 L1675.96,811.0 L1676.08,812.7 L1676.20,814.4 L1676.32,816.1 L1676.44,817.7 L1676.56,819.3 L1676.68,820.9 L1676.80,822.5 L1676.92,824.1 L1677.04,825.7 L1677.16,827.3 L1677.30,829.2 L1677.44,831.0 L1677.58,832.9 L1677.72,834.7 L1677.86,836.5 L1678.00,838.4 L1678.14,840.2 L1678.28,842.0 L1678.42,843.8 L1678.56,845.7 L1678.70,847.5 L1678.84,849.3 L1678.98,851.0 L1679.12,852.8 L1679.26,854.6 L1679.40,856.4 L1679.54,858.1 L1679.68,859.9 L1679.82,861.7 L1679.96,863.4 L1680.10,865.1 L1680.24,866.9 L1680.38,868.6 L1680.52,870.3 L1680.66,872.0 L1680.80,873.7 L1680.94,875.4 L1681.08,877.1 L1681.22,878.7 L1681.36,880.4 L1681.50,882.1 L1681.64,883.7 L1681.78,885.3 L1681.92,887.0 L1682.06,888.6 L1682.20,890.2 L1682.34,891.8 L1682.48,893.4 L1682.64,895.2 L1682.80,897.0 L1682.96,898.8 L1683.12,900.6 L1683.28,902.4 L1683.44,904.2 L1683.60,905.9 L1683.76,907.7 L1683.92,909.5 L1684.08,911.2 L1684.24,913.0 L1684.40,914.7 L1684.56,916.4 L1684.72,918.2 L1684.88,919.9 L1685.04,921.6 L1685.20,923.3 L1685.36,925.0 L1685.52,926.7 L1685.68,928.4 L1685.84,930.1 L1686.00,931.8 L1686.16,933.5 L1686.32,935.1 L1686.48,936.8 L1686.64,938.4 L1686.80,940.0 L1686.96,941.7 L1687.12,943.3 L1687.28,944.9 L1687.44,946.5 L1687.62,948.3 L1687.80,950.0 L1687.98,951.8 L1688.16,953.5 L1688.34,955.3 L1688.52,957.0 L1688.70,958.7 L1688.88,960.4 L1689.06,962.1 L1689.24,963.8 L1689.42,965.5 L1689.60,967.2 L1689.78,968.8 L1689.96,970.5 L1690.14,972.1 L1690.32,973.7 L1690.50,975.3 L1690.68,976.9 L1690.86,978.5 L1691.06,980.3 L1691.26,982.0 L1691.46,983.8 L1691.66,985.5 L1691.86,987.2 L1692.06,988.9 L1692.26,990.6 L1692.46,992.2 L1692.66,993.9 L1692.86,995.5 L1693.06,997.1 L1693.26,998.7 L1693.46,1000.3 L1693.68,1002.0 L1693.90,1003.7 L1694.12,1005.5 L1694.34,1007.2 L1694.56,1008.9 L1694.78,1010.6 L1695.00,1012.3 L1695.22,1014.0 L1695.44,1015.7 L1695.66,1017.4 L1695.88,1019.2 L1696.10,1020.9 L1696.32,1022.6 L1696.54,1024.3 L1696.76,1026.1 L1696.98,1027.8 L1697.20,1029.5 L1697.42,1031.1 L1697.64,1032.7 L1697.88,1034.4 L1698.12,1036.0 L1698.38,1037.7 L1698.64,1039.3 L1698.92,1041.0 L1699.20,1042.6 L1699.48,1044.3 L1699.76,1045.9 L1700.04,1047.5 L1700.32,1049.1 L1700.60,1050.7 L1700.88,1052.4 L1701.16,1054.1 L1701.44,1055.8 L1701.72,1057.4 L1702.00,1059.1 L1702.28,1060.8 L1702.56,1062.4 L1702.84,1064.0 L1703.14,1065.6 L1703.44,1067.3 L1703.74,1068.9 L1704.04,1070.5 L1704.34,1072.1 L1704.66,1073.7 L1704.98,1075.3 L1705.32,1076.9 L1705.68,1078.6 L1706.04,1080.2 L1706.40,1081.9 L1706.76,1083.5 L1707.14,1085.1 L1707.54,1086.6 L1708.00,1088.2 L1708.58,1089.7 L1709.28,1091.2 L1710.04,1092.6 L1710.88,1094.0 L1711.78,1095.4 L1712.72,1096.7 L1713.72,1097.9 L1714.80,1099.1 L1716.02,1100.2 L1717.34,1101.1 L1718.70,1102.0 L1720.06,1102.8 L1721.42,1103.7 L1722.82,1104.5 L1724.26,1105.2 L1725.70,1105.9 L1727.16,1106.6 L1728.68,1107.1 L1730.26,1107.5 L1731.86,1107.5 L1733.46,1107.6 L1735.06,1107.7 L1736.64,1108.0 L1738.20,1108.4 L1739.80,1108.6 L1741.40,1108.5 L1743.00,1108.3 L1744.60,1108.4 L1746.20,1108.5 L1747.80,1108.4 L1749.40,1108.2 L1751.00,1108.1 L1752.60,1108.0 L1754.20,1107.9 L1755.80,1107.7 L1757.40,1107.5 L1759.00,1107.4 L1760.60,1107.3 L1762.20,1107.1 L1763.80,1106.9 L1765.40,1106.7 L1767.00,1106.6 L1768.60,1106.6 L1770.20,1106.7 L1771.80,1106.8 L1773.40,1106.8 L1775.00,1106.7 L1776.60,1106.6 L1778.20,1106.6 L1779.80,1106.6 L1781.40,1106.6 L1783.00,1106.5 L1784.60,1106.3 L1786.16,1105.9 L1787.68,1105.4 L1789.22,1104.9 L1790.78,1104.5 L1792.36,1104.2 L1793.94,1103.9 L1795.50,1103.5 L1797.04,1103.1 L1798.62,1102.8 L1800.22,1102.8 L1801.82,1102.9 L1803.42,1103.0 L1805.02,1102.9 L1806.62,1103.0 L1808.20,1103.2 L1809.78,1103.6 L1811.38,1103.8 L1812.96,1104.1 L1814.52,1104.5 L1816.08,1104.9 L1817.64,1105.3 L1819.22,1105.6 L1820.80,1105.9 L1822.38,1106.2 L1823.96,1106.5 L1825.54,1106.8 L1827.10,1107.2 L1828.62,1107.7 L1830.14,1108.2 L1831.68,1108.7 L1833.24,1109.1 L1834.80,1109.5 L1836.32,1110.0 L1837.80,1110.6 L1839.24,1111.3 L1840.70,1112.0 L1842.22,1112.6 L1843.76,1113.0 L1845.26,1113.6 L1846.72,1114.3 L1848.16,1115.0 L1849.64,1115.6 L1851.14,1116.2 L1852.64,1116.8 L1854.14,1117.4 L1855.62,1118.0 L1857.10,1118.7 L1858.58,1119.4 L1860.06,1120.0 L1861.52,1120.7 L1862.96,1121.4 L1864.40,1122.1 L1865.90,1122.7 L1867.44,1123.1 L1868.98,1123.6 L1870.46,1124.2 L1871.96,1124.8 L1873.56,1125.0 L1875.16,1124.9 L1876.76,1124.7 L1878.36,1124.6 L1879.96,1124.6 L1881.56,1124.7 L1883.16,1124.8 L1884.76,1124.8 L1886.36,1124.8 L1887.96,1124.9 L1889.56,1125.0 L1891.16,1125.1 L1892.76,1125.2 L1894.36,1125.2 L1895.96,1125.2 L1897.56,1125.3 L1899.16,1125.4 L1900.76,1125.6 L1902.36,1125.6 L1903.96,1125.5 L1905.56,1125.3 L1907.14,1125.0 L1908.72,1124.6 L1910.30,1124.3 L1911.88,1124.0 L1913.44,1123.6 L1915.00,1123.3 L1916.58,1122.9 L1918.18,1122.7 L1919.78,1122.6 L1921.38,1122.5 L1922.96,1122.3 L1924.56,1122.0 L1926.16,1122.0 L1927.76,1122.2 L1929.36,1122.4 L1930.96,1122.5 L1932.56,1122.4 L1934.14,1122.2 L1935.74,1122.0 L1937.34,1122.2 L1938.94,1122.3 L1940.00,1122.3" stroke="#ff5050"/>
<path d="M150.00,716.8 L151.58,717.1 L153.18,717.2 L154.78,717.1 L156.34,716.7 L157.92,716.5 L159.52,716.4 L161.12,716.3 L162.70,716.0 L164.28,715.6 L165.88,715.5 L167.48,715.6 L169.08,715.7 L170.68,715.8 L172.28,715.8 L173.88,715.8 L175.48,715.8 L177.08,715.9 L178.68,715.8 L180.26,715.5 L181.82,715.1 L183.38,714.7 L184.96,714.4 L186.56,714.3 L188.16,714.3 L189.74,714.6 L191.30,715.0 L192.90,715.0 L194.42,714.5 L195.92,714.0 L197.52,713.8 L199.12,714.0 L200.66,714.5 L202.24,714.7 L203.82,714.4 L205.28,713.8 L206.84,713.3 L208.44,713.6 L209.96,714.1 L211.52,714.6 L213.12,714.6 L214.68,714.3 L216.20,713.7 L217.80,713.5 L219.40,713.7 L220.96,714.1 L222.54,714.4 L224.14,714.4 L225.66,713.8 L227.12,713.1 L228.70,712.8 L230.30,712.7 L231.90,712.6 L233.46,712.2 L234.98,711.6 L236.48,711.0 L237.96,710.4 L239.44,709.8 L240.90,709.1 L242.28,708.3 L243.62,707.4 L244.98,706.5 L246.42,705.8 L247.88,705.1 L249.30,704.4 L250.68,703.5 L252.12,702.8 L253.66,702.3 L255.24,702.0 L256.84,701.8 L258.44,701.9 L259.96,702.4 L261.34,703.3 L262.68,704.2 L264.06,705.0 L265.50,705.7 L267.00,706.3 L268.52,706.9 L269.98,707.6 L271.36,708.4 L272.82,709.1 L274.38,709.5 L275.96,709.7 L277.50,710.2 L279.00,710.8 L280.52,711.3 L282.10,711.6 L283.66,712.0 L285.16,712.6 L286.68,713.1 L288.28,713.4 L289.88,713.4 L291.48,713.5 L293.06,713.8 L294.62,714.2 L296.18,714.6 L297.78,714.8 L299.38,714.7 L300.98,714.7 L302.52,715.2 L304.06,715.7 L305.66,715.5 L307.20,715.1 L308.80,715.1 L310.32,715.6 L311.88,715.9 L313.48,715.8 L315.06,715.5 L316.66,715.4 L318.26,715.5 L319.86,715.6 L321.46,715.8 L323.06,715.8 L324.66,715.7 L326.26,715.6 L327.86,715.6 L329.46,715.4 L331.04,715.1 L332.62,714.9 L334.22,714.8 L335.82,715.0 L337.38,715.4 L338.94,715.8 L340.54,715.9 L342.14,715.7 L343.74,715.6 L345.34,715.7 L346.94,715.9 L348.54,716.0 L350.14,716.1 L351.74,715.9 L353.30,715.5 L354.82,715.0 L356.34,714.4 L357.92,714.2 L359.52,714.2 L361.12,714.4 L362.72,714.6 L364.32,714.4 L365.88,714.0 L367.48,713.8 L369.06,714.1 L370.58,714.6 L372.18,714.9 L373.78,714.8 L375.38,714.7 L376.98,714.7 L378.58,714.5 L380.16,714.2 L381.76,714.1 L383.34,714.4 L384.94,714.6 L386.52,714.3 L388.04,713.8 L389.64,713.6 L391.24,713.8 L392.84,714.0 L394.44,714.1 L396.04,714.3 L397.64,714.5 L399.24,714.7 L400.84,714.6 L402.44,714.4 L404.02,714.1 L405.62,713.9 L407.22,714.1 L408.80,714.3 L410.40,714.6 L412.00,714.7 L413.60,714.8 L415.20,715.0 L416.80,715.1 L418.40,715.1 L420.00,715.3 L421.58,715.6 L423.16,715.9 L424.76,716.1 L426.36,716.2 L427.96,716.4 L429.54,716.6 L431.14,716.8 L432.74,716.9 L434.34,716.7 L435.94,716.5 L437.54,716.3 L439.14,716.1 L440.74,716.0 L442.34,716.1 L443.94,716.2 L445.54,716.3 L447.14,716.3 L448.74,716.2 L450.34,715.9 L451.94,715.7 L453.54,715.7 L455.14,715.8 L456.74,716.0 L458.34,715.9 L459.80,715.2 L461.24,714.5 L462.84,714.4 L464.40,714.8 L466.00,714.7 L467.40,713.9 L468.72,712.9 L470.16,712.2 L471.70,711.7 L473.26,711.3 L474.80,710.9 L476.34,710.4 L477.88,709.9 L479.38,709.3 L480.82,708.6 L482.32,708.0 L483.92,708.1 L485.40,708.7 L486.90,709.3 L488.50,709.6 L490.08,709.9 L491.54,710.6 L492.92,711.4 L494.30,712.2 L495.78,712.9 L497.38,713.0 L498.92,712.5 L500.40,711.9 L501.92,711.3 L503.48,710.9 L505.02,710.5 L506.58,710.0 L508.16,709.7 L509.76,709.7 L511.36,709.9 L512.94,710.1 L514.54,710.2 L516.14,710.0 L517.74,710.0 L519.28,710.5 L520.70,711.3 L522.12,712.0 L523.62,712.6 L525.20,712.9 L526.80,713.0 L528.40,713.2 L529.92,713.7 L531.38,714.4 L532.90,715.0 L534.46,715.3 L536.02,715.7 L537.56,716.1 L539.08,716.7 L540.60,717.2 L542.18,717.5 L543.78,717.4 L545.36,717.1 L546.96,717.1 L548.54,717.4 L550.08,717.8 L551.62,718.3 L553.22,718.5 L554.80,718.2 L556.38,717.9 L557.98,717.8 L559.58,718.0 L561.16,718.3 L562.74,718.6 L564.34,718.5 L565.92,718.2 L567.52,718.1 L569.08,718.5 L570.62,719.0 L572.20,719.3 L573.80,719.1 L575.32,718.6 L576.84,718.1 L578.44,718.0 L580.00,718.4 L581.56,718.7 L583.16,718.9 L584.76,719.0 L586.36,719.2 L587.96,719.1 L589.52,718.7 L591.04,718.2 L592.60,717.8 L594.20,717.7 L595.80,718.0 L597.36,718.4 L598.94,718.7 L600.54,718.8 L602.12,718.5 L603.64,718.0 L605.16,717.5 L606.76,717.3 L608.36,717.3 L609.96,717.2 L611.56,717.1 L613.16,716.9 L614.76,716.8 L616.30,716.3 L617.72,715.5 L619.18,714.8 L620.78,714.6 L622.38,714.8 L623.98,714.9 L625.58,714.9 L627.18,714.8 L628.78,714.6 L630.38,714.4 L631.96,714.2 L633.56,713.9 L635.16,713.8 L636.76,713.7 L638.36,713.8 L639.96,714.0 L641.52,714.4 L643.08,714.8 L644.68,714.7 L646.20,714.2 L647.72,713.7 L649.32,713.6 L650.92,713.6 L652.52,713.8 L654.12,713.8 L655.70,713.5 L657.22,712.9 L658.78,712.5 L660.36,712.3 L661.94,711.9 L663.48,711.4 L665.04,711.0 L666.62,710.7 L668.20,710.4 L669.72,709.9 L671.18,709.2 L672.58,708.4 L673.94,707.5 L675.30,706.7 L676.68,705.8 L678.12,705.1 L679.66,704.7 L681.26,704.6 L682.86,704.7 L684.42,705.2 L685.90,705.8 L687.30,706.6 L688.66,707.5 L690.00,708.4 L691.36,709.2 L692.80,709.9 L694.36,710.4 L695.96,710.5 L697.56,710.6 L699.14,711.0 L700.62,711.6 L701.98,712.5 L703.36,713.3 L704.84,714.0 L706.40,714.3 L708.00,714.4 L709.60,714.4 L711.18,714.7 L712.70,715.2 L714.18,715.9 L715.70,716.4 L717.26,716.8 L718.86,717.0 L720.46,717.2 L722.00,717.7 L723.52,718.2 L725.12,718.2 L726.64,717.7 L728.18,717.2 L729.78,717.3 L731.36,717.6 L732.96,717.7 L734.56,717.6 L736.16,717.4 L737.76,717.3 L739.32,717.7 L740.80,718.3 L742.40,718.5 L743.92,717.9 L745.48,717.5 L747.04,718.0 L748.52,718.6 L750.12,718.6 L751.66,718.2 L753.26,718.0 L754.86,718.2 L756.44,718.4 L758.04,718.5 L759.64,718.4 L761.24,718.1 L762.84,717.9 L764.44,718.0 L766.04,718.2 L767.64,718.3 L769.24,718.3 L770.84,718.0 L772.42,717.7 L774.02,717.8 L775.60,718.0 L777.20,718.1 L778.76,717.7 L780.28,717.1 L781.86,716.8 L783.46,716.8 L785.06,716.8 L786.66,716.7 L788.26,716.7 L789.86,716.6 L791.46,716.4 L793.04,716.1 L794.64,716.1 L796.20,716.4 L797.74,716.9 L799.34,717.2 L800.94,717.1 L802.50,716.7 L804.06,716.3 L805.66,716.2 L807.24,716.6 L808.82,716.9 L810.42,716.9 L812.02,717.0 L813.60,717.2 L815.18,717.5 L816.78,717.6 L818.38,717.5 L819.98,717.5 L821.58,717.7 L823.16,718.1 L824.74,718.4 L826.34,718.4 L827.90,718.0 L829.46,717.5 L831.06,717.5 L832.66,717.7 L834.26,717.6 L835.86,717.4 L837.46,717.4 L839.06,717.5 L840.64,717.1 L842.12,716.5 L843.68,716.1 L845.28,716.3 L846.82,716.8 L848.42,717.1 L850.02,717.0 L851.62,716.8 L853.20,716.6 L854.78,716.2 L856.36,715.9 L857.96,715.9 L859.56,716.1 L861.16,716.4 L862.76,716.4 L864.36,716.3 L865.96,716.4 L867.56,716.3 L869.12,715.9 L870.66,715.4 L872.26,715.5 L873.78,716.0 L875.32,716.4 L876.92,716.4 L878.40,715.8 L879.70,714.8 L880.94,713.8 L882.26,712.9 L883.70,712.2 L885.16,711.5 L886.54,710.6 L887.98,709.9 L889.58,709.9 L891.00,710.7 L892.40,711.4 L893.98,711.8 L895.58,711.6 L897.10,711.1 L898.42,710.1 L899.66,709.1 L900.90,708.1 L902.16,707.1 L903.46,706.1 L904.90,705.4 L906.50,705.5 L907.88,706.3 L909.10,707.4 L910.28,708.5 L911.54,709.5 L912.84,710.4 L914.18,711.3 L915.64,712.0 L917.22,712.3 L918.82,712.0 L920.42,711.9 L921.94,712.4 L923.42,713.0 L925.02,713.1 L926.56,712.7 L928.12,712.3 L929.72,712.1 L931.30,711.8 L932.82,711.3 L934.36,710.8 L935.96,710.8 L937.56,710.9 L939.16,710.8 L940.74,710.5 L942.30,710.1 L943.82,709.6 L945.28,708.9 L946.68,708.1 L948.12,707.4 L949.70,707.1 L951.30,706.8 L952.74,706.1 L953.96,705.0 L955.18,703.9 L956.58,703.1 L958.08,702.5 L959.48,701.7 L960.68,700.7 L961.74,699.4 L962.70,698.1 L963.58,696.7 L964.34,695.3 L965.00,693.8 L965.62,692.3 L966.20,690.7 L966.74,689.2 L967.28,687.7 L967.80,686.1 L968.30,684.6 L968.78,683.0 L969.24,681.4 L969.68,679.8 L970.08,678.2 L970.48,676.6 L970.86,675.0 L971.22,673.3 L971.56,671.7 L971.88,670.1 L972.20,668.4 L972.50,666.8 L972.78,665.2 L973.06,663.5 L973.32,661.8 L973.56,660.1 L973.78,658.4 L973.98,656.8 L974.18,655.1 L974.38,653.3 L974.56,651.7 L974.74,650.1 L974.92,648.4 L975.10,646.7 L975.28,645.0 L975.46,643.2 L975.64,641.5 L975.82,639.8 L976.00,638.1 L976.18,636.4 L976.36,634.8 L976.54,633.1 L976.74,631.4 L976.94,629.7 L977.14,628.0 L977.34,626.3 L977.54,624.6 L977.74,622.9 L977.94,621.2 L978.14,619.5 L978.34,617.7 L978.54,616.0 L978.74,614.3 L978.94,612.6 L979.14,610.9 L979.34,609.2 L979.54,607.5 L979.74,605.9 L979.94,604.2 L980.14,602.6 L980.34,601.0 L980.54,599.4 L980.76,597.6 L980.98,595.9 L981.20,594.3 L981.42,592.6 L981.64,590.9 L981.86,589.2 L982.08,587.6 L982.30,586.0 L982.52,584.4 L982.76,582.7 L983.00,581.0 L983.24,579.4 L983.50,577.7 L983.76,576.1 L984.04,574.5 L984.34,572.8 L984.66,571.1 L985.00,569.5 L985.36,567.9 L985.74,566.3 L986.12,564.7 L986.52,563.1 L986.90,561.5 L987.24,559.9 L987.54,558.3 L987.84,556.7 L988.18,555.1 L989.66,555.7 L990.02,557.4 L990.36,559.0 L990.72,560.6 L991.14,562.2 L991.58,563.8 L992.02,565.4 L992.44,567.0 L992.84,568.6 L993.22,570.2 L993.58,571.9 L993.92,573.5 L994.24,575.1 L994.54,576.7 L994.84,578.3 L995.12,579.9 L995.40,581.5 L995.68,583.2 L995.96,584.9 L996.22,586.5 L996.48,588.1 L996.74,589.7 L997.00,591.3 L997.26,593.0 L997.52,594.7 L997.78,596.3 L998.04,598.0 L998.28,599.6 L998.52,601.3 L998.76,602.9 L999.00,604.6 L999.22,606.2 L999.44,607.9 L999.66,609.5 L999.88,611.2 L1000.10,612.9 L1000.32,614.6 L1000.54,616.3 L1000.76,618.0 L1000.98,619.8 L1001.18,621.4 L1001.38,622.9 L1001.58,624.5 L1001.80,626.3 L1002.02,628.0 L1002.24,629.7 L1002.46,631.4 L1002.66,633.0 L1002.86,634.6 L1003.06,636.3 L1003.26,638.0 L1003.46,639.6 L1003.66,641.3 L1003.86,643.0 L1004.06,644.6 L1004.26,646.3 L1004.46,647.9 L1004.66,649.5 L1004.88,651.3 L1005.10,653.0 L1005.32,654.6 L1005.54,656.2 L1005.78,657.9 L1006.02,659.5 L1006.28,661.1 L1006.56,662.7 L1006.88,664.4 L1007.20,665.9 L1007.54,667.5 L1007.90,669.2 L1008.26,670.8 L1008.64,672.4 L1009.02,673.9 L1009.42,675.5 L1009.84,677.1 L1010.26,678.7 L1010.70,680.2 L1011.16,681.8 L1011.62,683.4 L1012.10,684.9 L1012.60,686.5 L1013.12,688.0 L1013.68,689.6 L1014.28,691.1 L1014.94,692.6 L1015.70,694.0 L1016.56,695.3 L1017.46,696.7 L1018.32,698.0 L1019.12,699.5 L1019.86,700.9 L1020.60,702.3 L1021.36,703.7 L1022.20,705.1 L1023.18,706.4 L1024.28,707.5 L1025.46,708.6 L1026.70,709.7 L1027.98,710.7 L1029.26,711.6 L1030.56,712.6 L1031.92,713.4 L1033.44,714.0 L1035.04,714.2 L1036.62,714.5 L1038.16,715.0 L1039.72,715.3 L1041.32,715.3 L1042.90,715.1 L1044.46,714.6 L1046.04,714.3 L1047.64,714.4 L1049.24,714.6 L1050.78,714.1 L1052.12,713.2 L1053.42,712.2 L1054.84,711.4 L1056.38,711.0 L1057.92,710.5 L1059.38,709.8 L1060.66,708.8 L1061.76,707.6 L1062.78,706.3 L1063.78,705.1 L1064.84,703.9 L1066.00,702.7 L1067.32,701.8 L1068.86,701.3 L1070.46,701.2 L1072.06,701.2 L1073.66,701.5 L1075.04,702.3 L1076.16,703.5 L1077.20,704.7 L1078.28,705.9 L1079.48,707.0 L1080.80,707.9 L1082.20,708.7 L1083.68,709.3 L1085.24,709.7 L1086.82,710.0 L1088.40,710.3 L1089.96,710.8 L1091.48,711.3 L1092.92,712.1 L1094.34,712.8 L1095.90,713.2 L1097.48,712.9 L1099.02,712.4 L1100.60,712.1 L1102.18,711.8 L1103.76,711.6 L1105.36,711.4 L1106.96,711.4 L1108.56,711.5 L1109.98,710.7 L1111.04,709.5 L1111.98,708.2 L1112.94,706.9 L1114.00,705.7 L1115.12,704.5 L1116.10,703.2 L1116.78,701.7 L1117.32,700.1 L1117.80,698.6 L1118.26,697.0 L1118.70,695.4 L1119.14,693.9 L1119.60,692.3 L1120.10,690.7 L1120.64,689.2 L1121.28,687.7 L1122.04,686.3 L1122.78,684.9 L1123.48,683.4 L1124.12,681.9 L1124.74,680.4 L1125.34,678.9 L1125.96,677.3 L1126.60,675.8 L1127.30,674.4 L1128.10,673.0 L1129.20,671.8 L1130.78,672.0 L1131.76,673.3 L1132.54,674.8 L1133.24,676.2 L1133.92,677.7 L1134.60,679.2 L1135.28,680.6 L1135.96,682.1 L1136.62,683.6 L1137.26,685.1 L1137.86,686.6 L1138.38,688.1 L1138.80,689.7 L1139.16,691.3 L1139.50,692.9 L1139.82,694.5 L1140.14,696.1 L1140.46,697.8 L1140.78,699.3 L1141.12,700.9 L1141.50,702.5 L1141.94,704.1 L1142.52,705.6 L1143.28,707.0 L1144.08,708.4 L1144.94,709.8 L1145.86,711.1 L1146.88,712.4 L1148.06,713.5 L1149.48,714.2 L1151.08,714.3 L1152.68,714.3 L1154.28,714.3 L1155.88,714.2 L1157.48,714.1 L1159.08,714.0 L1160.68,713.8 L1162.26,713.5 L1163.84,713.3 L1165.44,713.3 L1166.96,713.8 L1168.50,714.2 L1170.06,713.9 L1171.46,713.1 L1172.98,712.6 L1174.58,712.7 L1176.18,712.8 L1177.74,712.4 L1179.24,711.8 L1180.80,711.4 L1182.40,711.2 L1184.00,711.0 L1185.60,710.8 L1187.16,710.4 L1188.68,709.9 L1190.14,709.2 L1191.54,708.4 L1192.90,707.5 L1194.22,706.6 L1195.60,705.8 L1197.18,705.4 L1198.70,706.0 L1200.20,706.6 L1201.78,706.3 L1203.24,705.7 L1204.84,705.4 L1206.40,705.8 L1207.94,706.3 L1209.54,706.6 L1211.14,706.8 L1212.70,707.2 L1214.26,707.5 L1215.86,707.7 L1217.46,707.8 L1219.06,707.7 L1220.66,707.6 L1222.26,707.4 L1223.84,707.2 L1225.44,707.1 L1227.04,707.1 L1228.64,707.2 L1230.24,706.9 L1231.80,706.6 L1233.38,706.2 L1234.96,705.9 L1236.54,705.6 L1238.10,705.2 L1239.62,704.7 L1241.12,704.1 L1242.66,703.7 L1244.26,703.5 L1245.86,703.6 L1247.46,703.7 L1249.06,703.6 L1250.66,703.4 L1252.26,703.3 L1253.86,703.4 L1255.46,703.6 L1257.06,703.4 L1258.58,702.9 L1260.16,702.5 L1261.76,702.8 L1263.32,703.2 L1264.92,703.4 L1266.52,703.6 L1267.98,704.3 L1269.32,705.2 L1270.74,706.0 L1272.30,706.3 L1273.88,706.6 L1275.36,707.3 L1276.80,708.0 L1278.34,708.5 L1279.94,708.6 L1281.54,708.7 L1283.12,709.1 L1284.60,709.7 L1285.98,710.5 L1287.42,711.2 L1289.02,711.4 L1290.62,711.2 L1292.22,711.5 L1293.66,712.2 L1295.12,712.9 L1296.70,713.2 L1298.30,713.2 L1299.90,713.1 L1301.50,713.3 L1302.92,714.1 L1304.24,715.0 L1305.72,715.7 L1307.32,715.5 L1308.92,715.4 L1310.40,716.0 L1311.84,716.7 L1313.44,716.6 L1314.84,715.8 L1316.30,715.2 L1317.90,715.1 L1319.50,715.0 L1320.94,714.3 L1322.28,713.4 L1323.70,712.6 L1325.26,712.2 L1326.86,712.2 L1328.46,712.4 L1330.06,712.4 L1331.60,711.9 L1333.08,711.3 L1334.62,710.8 L1336.22,710.6 L1337.82,710.3 L1339.36,709.8 L1340.70,708.9 L1341.84,707.8 L1342.92,706.6 L1344.04,705.4 L1345.28,704.4 L1346.60,703.5 L1347.86,702.4 L1349.00,701.3 L1350.02,700.0 L1350.96,698.7 L1351.84,697.4 L1352.64,696.0 L1353.38,694.5 L1354.12,693.1 L1354.86,691.6 L1355.64,690.2 L1356.44,688.8 L1357.22,687.4 L1357.98,686.0 L1358.72,684.5 L1359.46,683.1 L1360.24,681.6 L1361.10,680.3 L1362.20,679.1 L1363.58,678.3 L1364.96,677.4 L1366.18,676.4 L1367.34,675.3 L1368.60,674.3 L1370.08,673.6 L1371.64,673.2 L1373.14,672.6 L1374.52,671.8 L1375.88,670.9 L1377.22,670.1 L1378.46,669.0 L1379.56,667.9 L1380.58,666.6 L1381.58,665.3 L1382.60,664.1 L1383.64,662.9 L1384.64,661.6 L1385.56,660.3 L1386.36,658.9 L1387.10,657.4 L1387.82,656.0 L1388.58,654.6 L1389.46,653.2 L1390.64,652.1 L1392.10,651.4 L1393.50,650.6 L1394.76,649.6 L1395.96,648.6 L1397.16,647.5 L1398.44,646.5 L1399.86,645.7 L1401.42,645.4 L1403.02,645.3 L1404.62,645.3 L1406.22,645.4 L1407.66,646.1 L1408.82,647.2 L1409.80,648.5 L1410.64,649.9 L1411.42,651.3 L1412.16,652.8 L1412.88,654.2 L1413.62,655.7 L1414.42,657.1 L1415.24,658.5 L1415.94,659.9 L1416.58,661.4 L1417.16,662.9 L1417.70,664.5 L1418.22,666.1 L1418.72,667.6 L1419.20,669.2 L1419.70,670.7 L1420.20,672.3 L1420.72,673.8 L1421.28,675.3 L1421.90,676.8 L1422.58,678.3 L1423.26,679.8 L1423.94,681.2 L1424.62,682.7 L1425.30,684.2 L1425.98,685.7 L1426.70,687.1 L1427.48,688.6 L1428.36,689.9 L1429.44,691.1 L1430.70,692.1 L1431.98,693.1 L1433.28,694.0 L1434.60,695.0 L1435.96,695.8 L1437.40,696.5 L1438.96,697.0 L1440.56,697.0 L1442.16,696.7 L1443.74,696.4 L1445.34,696.2 L1446.94,696.3 L1448.54,696.5 L1450.14,696.4 L1451.72,696.1 L1453.30,695.8 L1454.90,695.7 L1456.50,695.9 L1458.08,696.2 L1459.68,696.2 L1461.20,695.7 L1462.72,695.2 L1464.30,695.5 L1465.66,696.4 L1466.96,697.3 L1468.32,698.2 L1469.72,699.0 L1471.16,699.7 L1472.62,700.4 L1474.08,701.1 L1475.52,701.8 L1476.88,702.7 L1478.18,703.7 L1479.50,704.6 L1480.96,705.3 L1482.54,705.5 L1484.12,705.9 L1485.56,706.6 L1486.90,707.5 L1488.26,708.3 L1489.70,709.0 L1491.22,709.6 L1492.80,709.9 L1494.32,710.4 L1495.66,711.4 L1496.92,712.4 L1498.26,713.3 L1499.78,713.8 L1501.36,714.1 L1502.94,714.3 L1504.50,714.7 L1506.06,715.1 L1507.66,715.3 L1509.22,714.9 L1510.60,714.1 L1511.94,713.2 L1513.34,712.4 L1514.74,711.6 L1516.00,710.6 L1517.16,709.4 L1518.34,708.3 L1519.54,707.2 L1520.80,706.2 L1522.06,705.2 L1523.22,704.1 L1524.36,703.0 L1525.62,701.9 L1527.16,701.5 L1528.74,701.8 L1530.14,702.6 L1531.40,703.6 L1532.58,704.7 L1533.70,705.9 L1534.82,707.0 L1536.00,708.1 L1537.34,709.0 L1538.76,709.8 L1540.20,710.5 L1541.66,711.2 L1543.12,711.9 L1544.56,712.6 L1546.02,713.2 L1547.52,713.8 L1549.06,714.2 L1550.58,714.7 L1552.08,715.3 L1553.66,715.6 L1555.18,715.1 L1556.58,714.3 L1558.14,713.9 L1559.72,714.2 L1561.30,714.4 L1562.90,714.3 L1564.42,713.7 L1565.88,713.1 L1567.36,712.4 L1568.90,712.0 L1570.50,711.8 L1572.10,711.6 L1573.70,711.5 L1575.30,711.3 L1576.90,711.1 L1578.50,710.8 L1580.08,710.6 L1581.66,710.3 L1583.24,710.0 L1584.80,709.6 L1586.28,709.0 L1587.66,708.1 L1589.06,707.3 L1590.54,706.7 L1592.08,706.2 L1593.66,705.9 L1595.24,705.6 L1596.80,705.1 L1598.32,704.6 L1599.86,704.2 L1601.42,703.7 L1602.92,703.1 L1604.28,702.3 L1605.62,701.4 L1607.06,700.7 L1608.64,700.3 L1610.22,700.1 L1611.74,699.5 L1613.20,698.9 L1614.62,698.1 L1616.02,697.3 L1617.42,696.5 L1618.82,695.7 L1620.20,694.8 L1621.56,694.0 L1622.92,693.1 L1624.30,692.2 L1625.68,691.4 L1626.92,690.4 L1627.96,689.1 L1628.86,687.8 L1629.70,686.4 L1630.54,685.0 L1631.46,683.6 L1632.46,682.4 L1633.42,681.1 L1634.20,679.6 L1634.84,678.1 L1635.40,676.6 L1635.92,675.0 L1636.40,673.5 L1636.88,671.9 L1637.34,670.3 L1637.78,668.8 L1638.22,667.2 L1638.66,665.6 L1639.10,663.9 L1639.54,662.3 L1639.98,660.7 L1640.42,659.2 L1640.86,657.6 L1641.30,656.0 L1641.72,654.4 L1642.12,652.7 L1642.48,651.2 L1642.82,649.6 L1643.16,647.9 L1643.48,646.3 L1643.78,644.7 L1644.06,643.0 L1644.34,641.3 L1644.60,639.7 L1644.84,638.1 L1645.08,636.4 L1645.30,634.7 L1645.52,633.0 L1645.72,631.4 L1645.92,629.6 L1646.10,627.9 L1646.28,626.1 L1646.44,624.5 L1646.60,622.7 L1646.74,621.1 L1646.88,619.3 L1647.00,617.7 L1647.12,616.0 L1647.24,614.1 L1647.34,612.4 L1647.44,610.7 L1647.54,608.9 L1647.64,607.1 L1647.74,605.2 L1647.84,603.2 L1647.94,601.2 L1648.02,599.6 L1648.10,598.0 L1648.18,596.3 L1648.26,594.7 L1648.34,593.0 L1648.42,591.3 L1648.50,589.6 L1648.58,587.9 L1648.66,586.2 L1648.74,584.5 L1648.82,582.8 L1648.90,581.1 L1648.98,579.4 L1649.06,577.8 L1649.14,576.1 L1649.22,574.5 L1649.30,572.9 L1649.38,571.3 L1649.46,569.7 L1649.54,568.1 L1649.62,566.5 L1649.70,564.9 L1649.78,563.3 L1649.86,561.6 L1649.94,560.0 L1650.02,558.4 L1650.10,556.8 L1650.18,555.2 L1650.26,553.5 L1650.34,551.9 L1650.42,550.3 L1650.50,548.6 L1650.58,547.0 L1650.66,545.3 L1650.74,543.7 L1650.82,542.0 L1650.90,540.4 L1650.98,538.7 L1651.06,537.0 L1651.14,535.3 L1651.22,533.6 L1651.30,531.9 L1651.38,530.2 L1651.46,528.5 L1651.54,526.8 L1651.62,525.0 L1651.70,523.3 L1651.78,521.5 L1651.86,519.7 L1651.94,518.0 L1652.02,516.2 L1652.10,514.4 L1652.18,512.6 L1652.26,510.7 L1652.34,508.9 L1652.42,507.0 L1652.50,505.2 L1652.58,503.3 L1652.66,501.4 L1652.74,499.5 L1652.82,497.6 L1652.90,495.6 L1652.98,493.7 L1653.06,491.7 L1653.14,489.7 L1653.22,487.7 L1653.30,485.6 L1653.38,483.5 L1653.46,481.4 L1653.52,479.8 L1653.58,478.2 L1653.64,476.6 L1653.70,474.9 L1653.76,473.2 L1653.82,471.6 L1653.88,469.9 L1653.94,468.2 L1654.00,466.5 L1654.06,464.8 L1654.12,463.0 L1654.18,461.3 L1654.24,459.6 L1654.30,457.8 L1654.36,456.0 L1654.42,454.3 L1654.48,452.5 L1654.54,450.7 L1654.60,448.9 L1654.66,447.1 L1654.72,445.3 L1654.78,443.5 L1654.84,441.7 L1654.90,439.9 L1654.96,438.1 L1655.02,436.3 L1655.08,434.5 L1655.14,432.6 L1655.20,430.8 L1655.26,429.0 L1655.32,427.2 L1655.38,425.4 L1655.44,423.6 L1655.50,421.8 L1655.56,420.0 L1655.62,418.2 L1655.68,416.4 L1655.74,414.6 L1655.80,412.8 L1655.86,411.0 L1655.92,409.2 L1655.98,407.5 L1656.04,405.7 L1656.10,403.9 L1656.16,402.1 L1656.22,400.3 L1656.28,398.5 L1656.34,396.6 L1656.40,394.8 L1656.46,392.9 L1656.52,391.1 L1656.58,389.2 L1656.64,387.3 L1656.70,385.4 L1656.76,383.5 L1656.82,381.6 L1656.88,379.7 L1656.94,377.8 L1657.00,375.9 L1657.06,374.0 L1657.12,372.1 L1657.18,370.2 L1657.24,368.3 L1657.30,366.4 L1657.36,364.6 L1657.42,362.7 L1657.48,360.8 L1657.54,358.9 L1657.60,357.1 L1657.66,355.2 L1657.72,353.4 L1657.78,351.6 L1657.84,349.8 L1657.90,348.0 L1657.96,346.2 L1658.02,344.4 L1658.08,342.7 L1658.14,340.9 L1658.20,339.2 L1658.26,337.5 L1658.32,335.9 L1658.38,334.2 L1658.44,332.6 L1658.50,331.0 L1658.58,328.9 L1658.66,326.9 L1658.74,324.9 L1658.82,322.9 L1658.90,321.0 L1658.98,319.0 L1659.06,317.0 L1659.14,315.0 L1659.22,313.0 L1659.30,311.0 L1659.38,309.0 L1659.46,307.1 L1659.54,305.2 L1659.62,303.3 L1659.70,301.5 L1659.78,299.8 L1659.86,298.1 L1659.94,296.5 L1660.04,294.6 L1660.14,292.9 L1660.26,291.0 L1660.40,289.2 L1660.56,287.6 L1660.74,285.9 L1660.92,284.3 L1661.12,282.5 L1661.32,280.8 L1661.54,279.1 L1661.76,277.5 L1662.00,275.9 L1662.28,274.2 L1662.60,272.6 L1663.06,271.1 L1664.30,272.1 L1664.60,273.8 L1664.84,275.5 L1665.06,277.2 L1665.26,279.0 L1665.44,280.6 L1665.62,282.4 L1665.78,284.0 L1665.94,285.7 L1666.10,287.3 L1666.26,289.1 L1666.40,290.8 L1666.52,292.5 L1666.64,294.3 L1666.74,296.0 L1666.84,297.8 L1666.94,299.7 L1667.02,301.3 L1667.10,303.0 L1667.18,304.7 L1667.26,306.5 L1667.34,308.4 L1667.42,310.4 L1667.50,312.4 L1667.58,314.5 L1667.64,316.1 L1667.70,317.7 L1667.76,319.4 L1667.82,321.1 L1667.88,322.9 L1667.94,324.7 L1668.00,326.8 L1668.06,329.1 L1668.10,330.7 L1668.14,332.4 L1668.18,334.2 L1668.22,336.1 L1668.26,338.0 L1668.30,340.0 L1668.34,342.1 L1668.38,344.2 L1668.42,346.3 L1668.46,348.6 L1668.50,350.8 L1668.54,353.1 L1668.58,355.4 L1668.62,357.8 L1668.66,360.2 L1668.70,362.5 L1668.74,364.9 L1668.78,367.4 L1668.82,369.8 L1668.86,372.2 L1668.90,374.6 L1668.94,377.0 L1668.98,379.4 L1669.02,381.7 L1669.06,384.0 L1669.10,386.3 L1669.14,388.6 L1669.18,390.8 L1669.22,393.0 L1669.26,395.1 L1669.30,397.2 L1669.34,399.2 L1669.38,401.2 L1669.42,403.1 L1669.46,404.9 L1669.50,406.6 L1669.54,408.3 L1669.58,409.9 L1669.62,411.6 L1669.66,413.2 L1669.70,414.9 L1669.74,416.5 L1669.78,418.1 L1669.84,420.5 L1669.90,422.8 L1669.96,425.1 L1670.02,427.4 L1670.08,429.7 L1670.14,431.9 L1670.20,434.2 L1670.26,436.4 L1670.32,438.5 L1670.38,440.7 L1670.44,442.8 L1670.50,445.0 L1670.56,447.0 L1670.62,449.1 L1670.68,451.2 L1670.74,453.2 L1670.80,455.2 L1670.86,457.2 L1670.92,459.2 L1670.98,461.2 L1671.04,463.2 L1671.10,465.1 L1671.16,467.1 L1671.22,469.0 L1671.28,470.9 L1671.34,472.8 L1671.40,474.7 L1671.46,476.6 L1671.52,478.5 L1671.58,480.3 L1671.64,482.2 L1671.70,484.1 L1671.76,485.9 L1671.82,487.8 L1671.88,489.6 L1671.94,491.4 L1672.00,493.3 L1672.06,495.1 L1672.12,497.0 L1672.18,498.8 L1672.24,500.7 L1672.30,502.5 L1672.36,504.3 L1672.42,506.2 L1672.48,508.0 L1672.54,509.8 L1672.60,511.7 L1672.66,513.5 L1672.72,515.3 L1672.78,517.1 L1672.84,518.9 L1672.90,520.7 L1672.96,522.5 L1673.02,524.3 L1673.08,526.1 L1673.14,527.8 L1673.20,529.6 L1673.26,531.3 L1673.32,533.0 L1673.38,534.7 L1673.44,536.4 L1673.50,538.1 L1673.56,539.8 L1673.62,541.5 L1673.68,543.1 L1673.74,544.7 L1673.80,546.3 L1673.88,548.5 L1673.96,550.5 L1674.04,552.6 L1674.12,554.6 L1674.20,556.6 L1674.28,558.6 L1674.36,560.5 L1674.44,562.3 L1674.52,564.1 L1674.60,565.9 L1674.68,567.7 L1674.76,569.4 L1674.84,571.0 L1674.94,573.0 L1675.04,574.9 L1675.14,576.8 L1675.24,578.6 L1675.34,580.4 L1675.44,582.2 L1675.54,584.0 L1675.64,585.8 L1675.74,587.5 L1675.84,589.2 L1675.94,590.9 L1676.04,592.5 L1676.14,594.2 L1676.24,595.8 L1676.36,597.7 L1676.48,599.6 L1676.60,601.4 L1676.72,603.2 L1676.84,604.9 L1676.96,606.7 L1677.08,608.3 L1677.20,610.0 L1677.32,611.6 L1677.46,613.5 L1677.60,615.2 L1677.74,617.0 L1677.88,618.7 L1678.02,620.3 L1678.16,621.9 L1678.32,623.7 L1678.48,625.4 L1678.64,627.1 L1678.82,628.8 L1679.00,630.5 L1679.18,632.2 L1679.36,633.9 L1679.54,635.5 L1679.74,637.2 L1679.94,638.9 L1680.14,640.6 L1680.34,642.2 L1680.56,643.9 L1680.78,645.6 L1681.00,647.2 L1681.24,648.9 L1681.48,650.5 L1681.74,652.2 L1682.02,653.9 L1682.32,655.5 L1682.64,657.1 L1683.00,658.7 L1683.38,660.3 L1683.78,661.9 L1684.20,663.5 L1684.64,665.1 L1685.10,666.6 L1685.60,668.2 L1686.12,669.7 L1686.68,671.3 L1687.28,672.8 L1687.92,674.3 L1688.60,675.8 L1689.38,677.2 L1690.26,678.6 L1691.18,679.9 L1692.16,681.2 L1693.20,682.4 L1694.32,683.5 L1695.52,684.6 L1696.84,685.5 L1698.32,686.2 L1699.88,686.6 L1701.42,687.1 L1702.86,687.8 L1704.24,688.7 L1705.62,689.5 L1707.04,690.3 L1708.46,691.1 L1709.88,691.8 L1711.36,692.5 L1712.92,692.9 L1714.52,693.0 L1716.12,693.1 L1717.72,693.0 L1719.32,693.1 L1720.92,693.2 L1722.52,693.1 L1724.12,692.9 L1725.72,692.9 L1727.28,693.2 L1728.84,693.6 L1730.44,693.6 L1732.02,693.3 L1733.58,693.0 L1735.16,692.7 L1736.76,692.7 L1738.36,692.8 L1739.96,692.9 L1741.56,692.7 L1743.16,692.4 L1744.76,692.3 L1746.36,692.2 L1747.96,692.1 L1749.56,691.8 L1751.16,691.7 L1752.76,691.6 L1754.36,691.8 L1755.94,692.1 L1757.54,692.2 L1759.14,692.0 L1760.74,691.8 L1762.34,691.9 L1763.94,691.9 L1765.50,691.5 L1767.06,691.1 L1768.66,691.1 L1770.22,691.5 L1771.80,691.8 L1773.40,691.8 L1775.00,691.6 L1776.60,691.4 L1778.20,691.3 L1779.80,691.3 L1781.40,691.2 L1782.94,690.7 L1784.42,690.1 L1785.94,689.5 L1787.52,689.2 L1789.12,689.1 L1790.72,689.3 L1792.32,689.3 L1793.92,689.1 L1795.52,688.9 L1797.12,688.8 L1798.72,688.7 L1800.28,688.3 L1801.80,687.7 L1803.38,687.5 L1804.98,687.5 L1806.58,687.5 L1808.18,687.3 L1809.78,687.2 L1811.38,687.3 L1812.98,687.4 L1814.58,687.4 L1816.16,687.7 L1817.62,688.4 L1818.98,689.2 L1820.40,690.0 L1821.92,690.5 L1823.52,690.7 L1825.12,690.8 L1826.72,690.9 L1828.28,691.2 L1829.70,692.0 L1830.96,693.0 L1832.14,694.1 L1833.32,695.2 L1834.60,696.2 L1836.02,697.0 L1837.48,697.6 L1838.90,698.4 L1840.28,699.2 L1841.64,700.1 L1842.98,701.0 L1844.32,701.9 L1845.72,702.7 L1847.12,703.5 L1848.48,704.4 L1849.76,705.3 L1851.02,706.3 L1852.32,707.3 L1853.68,708.1 L1855.12,708.9 L1856.64,709.4 L1858.16,709.9 L1859.58,710.7 L1860.96,711.5 L1862.48,712.0 L1864.08,712.1 L1865.68,712.2 L1867.18,712.9 L1868.58,713.7 L1869.98,714.5 L1871.48,715.1 L1873.08,715.2 L1874.66,714.9 L1876.26,714.8 L1877.82,715.3 L1879.30,715.9 L1880.82,716.4 L1882.40,716.7 L1884.00,716.7 L1885.60,716.7 L1887.18,717.0 L1888.68,717.5 L1890.24,717.9 L1891.84,717.7 L1893.40,717.3 L1895.00,717.1 L1896.60,717.1 L1898.16,717.5 L1899.74,717.7 L1901.30,717.4 L1902.72,716.6 L1904.28,716.3 L1905.82,716.8 L1907.36,717.2 L1908.94,716.9 L1910.40,716.2 L1911.98,715.9 L1913.58,716.0 L1915.18,716.1 L1916.78,716.1 L1918.38,715.9 L1919.98,715.8 L1921.58,715.5 L1923.12,715.1 L1924.68,714.7 L1926.28,714.6 L1927.88,714.8 L1929.48,714.8 L1931.08,714.7 L1932.68,714.9 L1934.24,715.3 L1935.82,715.7 L1937.42,715.7 L1939.02,715.6 L1940.00,715.4" stroke="#008000"/>
</g>
<g fill="#000">
<rect x="151.70" y="42.20" width="6.6" height="1541.30"/>
<rect x="1930.50" y="42.20" width="7.0" height="1541.30"/>
<rect x="151.70" y="42.20" width="1785.80" height="5.6"/>
<rect x="151.70" y="1577.50" width="1785.80" height="6.0"/>
<rect x="225.90" y="1580.50" width="6.0" height="12.80"/>
<rect x="359.30" y="1580.50" width="6.0" height="24.90"/>
<rect x="490.80" y="1580.50" width="6.0" height="12.80"/>
<rect x="622.30" y="1580.50" width="6.0" height="24.90"/>
<rect x="756.10" y="1580.50" width="6.0" height="12.80"/>
<rect x="887.60" y="1580.50" width="6.0" height="24.90"/>
<rect x="1019.00" y="1580.50" width="6.0" height="12.80"/>
<rect x="1151.80" y="1580.50" width="6.0" height="24.90"/>
<rect x="1283.70" y="1580.50" width="6.0" height="12.80"/>
<rect x="1414.60" y="1580.50" width="6.0" height="24.90"/>
<rect x="1548.30" y="1580.50" width="6.0" height="12.80"/>
<rect x="1679.90" y="1580.50" width="6.0" height="24.90"/>
<rect x="1811.10" y="1580.50" width="6.0" height="12.80"/>
</g>
<text id="t0" transform="translate(364.30,1670.30) scale(0.985,1)" font-size="58.8" letter-spacing="-1.75" text-anchor="middle">600</text>
<text id="t1" transform="translate(628.60,1670.30) scale(0.985,1)" font-size="58.8" letter-spacing="-1.75" text-anchor="middle">800</text>
<text id="t2" transform="translate(895.30,1670.30) scale(0.985,1)" font-size="58.8" letter-spacing="-1.75" text-anchor="middle" clip-path="url(#kt2)">1000</text>
<text id="t3" transform="translate(1158.00,1670.30) scale(0.985,1)" font-size="58.8" letter-spacing="-1.75" text-anchor="middle" clip-path="url(#kt3)">1200</text>
<text id="t4" transform="translate(1422.30,1670.30) scale(0.985,1)" font-size="58.8" letter-spacing="-1.75" text-anchor="middle" clip-path="url(#kt4)">1400</text>
<text id="t5" transform="translate(1687.60,1670.30) scale(0.985,1)" font-size="58.8" letter-spacing="-1.75" text-anchor="middle" clip-path="url(#kt5)">1600</text>
<text id="t6" transform="translate(741.00,1751.80) scale(0.965,1)" font-size="69.7" clip-path="url(#kt6)">Raman<tspan dx="3.5"> shift</tspan><tspan dx="5"> (cm</tspan><tspan font-size="47" dy="-21.3" letter-spacing="-1.5">-1</tspan><tspan dy="21.3" dx="-1.5">)</tspan></text>
<text id="t7" transform="translate(109.50,1210.00) rotate(-90) scale(0.965,1)" font-size="69.7">Normalized<tspan dx="7"> SERS</tspan><tspan dx="1"> intensity</tspan></text>
<text id="t8" transform="translate(189.00,161.60) scale(0.946,1)" font-size="90.5">Ag<tspan stroke="#000" stroke-width="2.6" stroke-linejoin="round">@</tspan>Ag</text>
<rect x="191" y="246.85" width="152" height="17.3" fill="#008000"/>
<text id="t9" transform="translate(353.10,277.90) scale(0.986,1)" font-size="68.6" clip-path="url(#kt9)"><tspan letter-spacing="-1.75">514</tspan><tspan dx="6.5"> nm</tspan></text>
<rect x="191" y="341.35" width="152" height="17.3" fill="#ff5050"/>
<text id="t10" transform="translate(353.10,374.00) scale(0.986,1)" font-size="68.6"><tspan letter-spacing="-1.75">633</tspan><tspan dx="6.5"> nm</tspan></text>
<rect x="191" y="437.75" width="152" height="17.3" fill="#c00000"/>
<text id="t11" transform="translate(353.10,468.90) scale(0.986,1)" font-size="68.6"><tspan letter-spacing="-1.75">785</tspan><tspan dx="6.5"> nm</tspan></text>
<text id="t12" transform="translate(1012.10,539.00) rotate(-90) scale(0.949,1)" font-size="71.2" letter-spacing="-1.15" clip-path="url(#kt12)">1076</text>
<text id="t13" transform="translate(1087.60,683.00) rotate(-90) scale(0.949,1)" font-size="71.2" letter-spacing="-0.65" clip-path="url(#kt13)">1141</text>
<text id="t14" transform="translate(1152.60,648.30) rotate(-90) scale(0.949,1)" font-size="71.2" letter-spacing="-1.90" clip-path="url(#kt14)">1184</text>
<text id="t15" transform="translate(1422.30,629.00) rotate(-90) scale(0.949,1)" font-size="71.2" letter-spacing="-0.85" clip-path="url(#kt15)">1388</text>
<text id="t16" transform="translate(1690.00,251.00) rotate(-90) scale(0.949,1)" font-size="71.2" letter-spacing="-0.85" clip-path="url(#kt16)">1588</text>
<text id="t17" transform="translate(1841.20,669.40) rotate(-90) scale(0.949,1)" font-size="71.2" letter-spacing="-0.85" clip-path="url(#kt17)">1700</text>
<text id="t18" transform="translate(283.70,1396.00) rotate(-90) scale(0.949,1)" font-size="71.2" letter-spacing="-1.20">524</text>
<text id="t19" transform="translate(546.80,1456.50) rotate(-90) scale(0.949,1)" font-size="71.2" letter-spacing="-0.20" clip-path="url(#kt19)">716</text>
<text id="t20" transform="translate(708.70,1453.50) rotate(-90) scale(0.949,1)" font-size="71.2" letter-spacing="-0.85">842</text>
</svg></body></html>
